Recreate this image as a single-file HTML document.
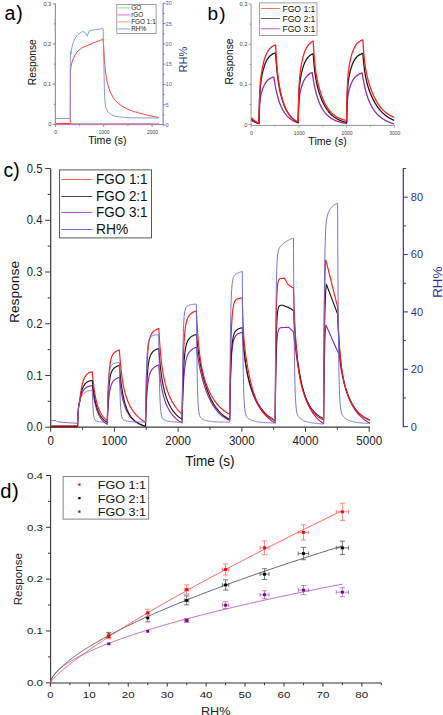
<!DOCTYPE html>
<html><head><meta charset="utf-8"><style>
html,body{margin:0;padding:0;background:#fff;}
svg{display:block;}
text{font-family:"Liberation Sans", sans-serif;}
</style></head><body>
<svg width="443" height="715" viewBox="0 0 443 715">
<rect width="443" height="715" fill="#fff"/>
<text x="4.6" y="19.7" font-size="19.5" text-anchor="start" fill="#000" letter-spacing="0.8">a)</text>
<line x1="55.3" y1="3.5" x2="55.3" y2="124.6" stroke="#707070" stroke-width="0.9" />
<line x1="52.7" y1="124.4" x2="55.3" y2="124.4" stroke="#707070" stroke-width="0.8" />
<line x1="53.8" y1="104.3" x2="55.3" y2="104.3" stroke="#707070" stroke-width="0.8" />
<line x1="52.7" y1="84.2" x2="55.3" y2="84.2" stroke="#707070" stroke-width="0.8" />
<line x1="53.8" y1="64.1" x2="55.3" y2="64.1" stroke="#707070" stroke-width="0.8" />
<line x1="52.7" y1="44" x2="55.3" y2="44" stroke="#707070" stroke-width="0.8" />
<line x1="53.8" y1="23.9" x2="55.3" y2="23.9" stroke="#707070" stroke-width="0.8" />
<line x1="52.7" y1="3.8" x2="55.3" y2="3.8" stroke="#707070" stroke-width="0.8" />
<text x="51.3" y="126.3" font-size="5.7" text-anchor="end" fill="#444" >0</text>
<text x="51.3" y="86.1" font-size="5.7" text-anchor="end" fill="#444" >0,1</text>
<text x="51.3" y="45.9" font-size="5.7" text-anchor="end" fill="#444" >0,2</text>
<text x="51.3" y="5.7" font-size="5.7" text-anchor="end" fill="#444" >0,3</text>
<line x1="55.3" y1="124.6" x2="163.1" y2="124.6" stroke="#707070" stroke-width="0.9" />
<line x1="55.3" y1="124.6" x2="55.3" y2="126.8" stroke="#707070" stroke-width="0.8" />
<line x1="79.5" y1="124.6" x2="79.5" y2="125.9" stroke="#707070" stroke-width="0.8" />
<line x1="103.7" y1="124.6" x2="103.7" y2="126.8" stroke="#707070" stroke-width="0.8" />
<line x1="127.9" y1="124.6" x2="127.9" y2="125.9" stroke="#707070" stroke-width="0.8" />
<line x1="152.1" y1="124.6" x2="152.1" y2="126.8" stroke="#707070" stroke-width="0.8" />
<text x="55.7" y="134.1" font-size="5.8" text-anchor="middle" fill="#444" textLength="2.9" lengthAdjust="spacingAndGlyphs" >0</text>
<text x="104.1" y="134.1" font-size="5.8" text-anchor="middle" fill="#444" textLength="11" lengthAdjust="spacingAndGlyphs" >1000</text>
<text x="152.5" y="134.1" font-size="5.8" text-anchor="middle" fill="#444" textLength="11" lengthAdjust="spacingAndGlyphs" >2000</text>
<text x="107.4" y="143.6" font-size="10.6" text-anchor="middle" fill="#111" >Time (s)</text>
<text x="36.1" y="62.2" font-size="10.2" text-anchor="middle" fill="#111" transform="rotate(-90 36.1 62.2)" >Response</text>
<line x1="163.1" y1="3.3" x2="163.1" y2="125.1" stroke="#5060c0" stroke-width="0.9" />
<line x1="163.1" y1="125.1" x2="165.5" y2="125.1" stroke="#5060c0" stroke-width="0.8" />
<line x1="163.1" y1="114.95" x2="164.5" y2="114.95" stroke="#5060c0" stroke-width="0.8" />
<line x1="163.1" y1="104.8" x2="165.5" y2="104.8" stroke="#5060c0" stroke-width="0.8" />
<line x1="163.1" y1="94.65" x2="164.5" y2="94.65" stroke="#5060c0" stroke-width="0.8" />
<line x1="163.1" y1="84.5" x2="165.5" y2="84.5" stroke="#5060c0" stroke-width="0.8" />
<line x1="163.1" y1="74.35" x2="164.5" y2="74.35" stroke="#5060c0" stroke-width="0.8" />
<line x1="163.1" y1="64.2" x2="165.5" y2="64.2" stroke="#5060c0" stroke-width="0.8" />
<line x1="163.1" y1="54.05" x2="164.5" y2="54.05" stroke="#5060c0" stroke-width="0.8" />
<line x1="163.1" y1="43.9" x2="165.5" y2="43.9" stroke="#5060c0" stroke-width="0.8" />
<line x1="163.1" y1="33.75" x2="164.5" y2="33.75" stroke="#5060c0" stroke-width="0.8" />
<line x1="163.1" y1="23.6" x2="165.5" y2="23.6" stroke="#5060c0" stroke-width="0.8" />
<line x1="163.1" y1="13.45" x2="164.5" y2="13.45" stroke="#5060c0" stroke-width="0.8" />
<line x1="163.1" y1="3.3" x2="165.5" y2="3.3" stroke="#5060c0" stroke-width="0.8" />
<text x="165.6" y="127" font-size="5.6" text-anchor="start" fill="#5060c0" >0</text>
<text x="165.6" y="106.7" font-size="5.6" text-anchor="start" fill="#5060c0" >5</text>
<text x="165.6" y="86.4" font-size="5.6" text-anchor="start" fill="#5060c0" >10</text>
<text x="165.6" y="66.1" font-size="5.6" text-anchor="start" fill="#5060c0" >15</text>
<text x="165.6" y="45.8" font-size="5.6" text-anchor="start" fill="#5060c0" >20</text>
<text x="165.6" y="25.5" font-size="5.6" text-anchor="start" fill="#5060c0" >25</text>
<text x="165.6" y="5.2" font-size="5.6" text-anchor="start" fill="#5060c0" >30</text>
<text x="187.1" y="59.6" font-size="11" text-anchor="middle" fill="#2c3590" transform="rotate(-90 187.1 59.6)" >RH%</text>
<rect x="116.8" y="4.4" width="39.3" height="29.1" fill="none" stroke="#8a8a8a" stroke-width="0.8"/>
<line x1="117.6" y1="7.9" x2="130.5" y2="7.9" stroke="#90d090" stroke-width="0.9" />
<text x="131.2" y="10.2" font-size="6.4" text-anchor="start" fill="#222" >GO</text>
<line x1="117.6" y1="14.9" x2="130.5" y2="14.9" stroke="#e060d0" stroke-width="0.9" />
<text x="131.2" y="17.2" font-size="6.4" text-anchor="start" fill="#222" >rGO</text>
<line x1="117.6" y1="21.9" x2="130.5" y2="21.9" stroke="#ff9080" stroke-width="0.9" />
<text x="131.2" y="24.2" font-size="6.4" text-anchor="start" fill="#222" >FGO 1:1</text>
<line x1="117.6" y1="28.9" x2="130.5" y2="28.9" stroke="#8090e0" stroke-width="0.9" />
<text x="131.2" y="31.2" font-size="6.4" text-anchor="start" fill="#222" >RH%</text>
<path d="M55.5 123.9 L158.8 123.9" fill="none" stroke="#e070c0" stroke-width="1.8" stroke-linejoin="round" />
<path d="M55.5 123.5 L158.8 123.3" fill="none" stroke="#a0d0a0" stroke-width="0.6" stroke-linejoin="round" />
<path d="M55.5 123.5 L70.3 123.5 L70.4 72 L71 66 L72.7 60 L75 55 L78 50.8 L82 47.8 L85.8 46.2 L90 44.5 L93.5 42.8 L97 41.6 L101.9 39.7 L102.8 38.8 L103.4 42 L104.4 60 L105.5 72 L107.3 83 L110 91.5 L113.9 98.9 L118 103.2 L122 106.2 L129.3 109.9 L136 112.2 L144 114.3 L151 116 L158.7 117.5" fill="none" stroke="#ff3030" stroke-width="0.9" stroke-linejoin="round" />
<path d="M55.5 118.5 L70.2 118.5 L70.4 51.5 L70.9 54.6 L71.4 50 L72.5 45 L74.2 40 L76 37 L78 34.6 L80 33 L82.7 31.5 L85 32.5 L87.3 36.2 L88.3 33 L89.6 30.8 L92 30.2 L95 29.6 L98 29.5 L101.9 28.5 L103.2 29 L103.8 60 L104.5 95 L105.2 104 L106 108.4 L108 112 L111.7 115 L116 116.5 L122 117.2 L130 117.8 L158.7 118" fill="none" stroke="#8090e0" stroke-width="0.9" stroke-linejoin="round" />
<text x="207.4" y="19.7" font-size="19" text-anchor="start" fill="#000" letter-spacing="1.2">b)</text>
<line x1="251.1" y1="3.8" x2="251.1" y2="125.4" stroke="#8a8a8a" stroke-width="0.9" />
<line x1="248.5" y1="124.6" x2="251.1" y2="124.6" stroke="#8a8a8a" stroke-width="0.8" />
<line x1="249.6" y1="104.5" x2="251.1" y2="104.5" stroke="#8a8a8a" stroke-width="0.8" />
<line x1="248.5" y1="84.4" x2="251.1" y2="84.4" stroke="#8a8a8a" stroke-width="0.8" />
<line x1="249.6" y1="64.3" x2="251.1" y2="64.3" stroke="#8a8a8a" stroke-width="0.8" />
<line x1="248.5" y1="44.2" x2="251.1" y2="44.2" stroke="#8a8a8a" stroke-width="0.8" />
<line x1="249.6" y1="24.1" x2="251.1" y2="24.1" stroke="#8a8a8a" stroke-width="0.8" />
<line x1="248.5" y1="4" x2="251.1" y2="4" stroke="#8a8a8a" stroke-width="0.8" />
<text x="247.5" y="126.5" font-size="5.7" text-anchor="end" fill="#444" >0</text>
<text x="247.5" y="86.3" font-size="5.7" text-anchor="end" fill="#444" >0,1</text>
<text x="247.5" y="46.1" font-size="5.7" text-anchor="end" fill="#444" >0,2</text>
<text x="247.5" y="5.9" font-size="5.7" text-anchor="end" fill="#444" >0,3</text>
<line x1="251.1" y1="125.4" x2="394.4" y2="125.4" stroke="#8a8a8a" stroke-width="0.9" />
<line x1="251.1" y1="125.4" x2="251.1" y2="127.6" stroke="#8a8a8a" stroke-width="0.8" />
<line x1="274.99" y1="125.4" x2="274.99" y2="126.7" stroke="#8a8a8a" stroke-width="0.8" />
<line x1="298.87" y1="125.4" x2="298.87" y2="127.6" stroke="#8a8a8a" stroke-width="0.8" />
<line x1="322.75" y1="125.4" x2="322.75" y2="126.7" stroke="#8a8a8a" stroke-width="0.8" />
<line x1="346.64" y1="125.4" x2="346.64" y2="127.6" stroke="#8a8a8a" stroke-width="0.8" />
<line x1="370.52" y1="125.4" x2="370.52" y2="126.7" stroke="#8a8a8a" stroke-width="0.8" />
<line x1="394.41" y1="125.4" x2="394.41" y2="127.6" stroke="#8a8a8a" stroke-width="0.8" />
<text x="251.5" y="134.6" font-size="5.8" text-anchor="middle" fill="#444" textLength="2.9" lengthAdjust="spacingAndGlyphs" >0</text>
<text x="299.27" y="134.6" font-size="5.8" text-anchor="middle" fill="#444" textLength="11" lengthAdjust="spacingAndGlyphs" >1000</text>
<text x="347.04" y="134.6" font-size="5.8" text-anchor="middle" fill="#444" textLength="11" lengthAdjust="spacingAndGlyphs" >2000</text>
<text x="394.81" y="134.6" font-size="5.8" text-anchor="middle" fill="#444" textLength="11" lengthAdjust="spacingAndGlyphs" >3000</text>
<text x="327.6" y="145" font-size="10.6" text-anchor="middle" fill="#111" >Time (s)</text>
<text x="232.6" y="61.5" font-size="10.2" text-anchor="middle" fill="#111" transform="rotate(-90 232.6 61.5)" >Response</text>
<rect x="259.5" y="2.9" width="57.5" height="32.5" fill="none" stroke="#8a8a8a" stroke-width="0.8"/>
<line x1="260.8" y1="8.5" x2="279.8" y2="8.5" stroke="#ff6050" stroke-width="0.9" />
<text x="282.4" y="11.5" font-size="8.6" text-anchor="start" fill="#111" >FGO 1:1</text>
<line x1="260.8" y1="18.5" x2="279.8" y2="18.5" stroke="#505050" stroke-width="0.9" />
<text x="282.4" y="21.5" font-size="8.6" text-anchor="start" fill="#111" >FGO 2:1</text>
<line x1="260.8" y1="28.8" x2="279.8" y2="28.8" stroke="#b050c0" stroke-width="0.9" />
<text x="282.4" y="31.8" font-size="8.6" text-anchor="start" fill="#111" >FGO 3:1</text>
<path d="M251.5 120.5 L253 121.5 L255 122.2 L257 123 L259 123.5 L259 123.4 L259.05 121.28 L259.18 116.45 L259.32 112.6 L259.45 109.48 L259.58 106.95 L259.72 104.86 L259.85 103.11 L259.98 101.64 L260.12 100.37 L260.25 99.27 L260.38 98.29 L260.52 97.42 L260.65 96.63 L260.78 95.91 L260.92 95.24 L261.05 94.62 L261.45 92.95 L261.85 91.49 L262.25 90.19 L262.65 89.01 L263.05 87.93 L263.45 86.94 L263.85 86.03 L264.25 85.2 L264.65 84.43 L265.05 83.72 L265.45 83.07 L265.85 82.47 L266.25 81.92 L266.65 81.41 L267.05 80.95 L267.45 80.52 L267.85 80.13 L268.25 79.76 L268.65 79.43 L269.05 79.12 L269.45 78.84 L269.85 78.58 L270.25 78.34 L270.65 78.12 L271.05 77.92 L271.45 77.73 L271.85 77.56 L272.25 77.4 L272.65 77.26 L273.05 77.12 L273.45 77 L273.8 76.9 L273.85 77.25 L273.98 78.17 L274.12 79.06 L274.25 79.93 L274.38 80.78 L274.52 81.61 L274.65 82.43 L274.78 83.22 L274.92 83.99 L275.05 84.75 L275.18 85.49 L275.32 86.21 L275.45 86.92 L275.58 87.61 L275.72 88.28 L275.85 88.94 L276.25 90.83 L276.65 92.6 L277.05 94.26 L277.45 95.82 L277.85 97.28 L278.25 98.66 L278.65 99.96 L279.05 101.18 L279.45 102.34 L279.85 103.43 L280.25 104.46 L280.65 105.43 L281.05 106.36 L281.45 107.23 L281.85 108.07 L282.25 108.86 L282.65 109.61 L283.05 110.32 L283.45 111 L283.85 111.65 L284.25 112.26 L284.65 112.85 L285.05 113.41 L285.45 113.95 L285.85 114.46 L286.25 114.95 L286.65 115.41 L287.05 115.86 L287.45 116.29 L287.85 116.7 L288.25 117.09 L288.65 117.46 L289.05 117.82 L289.45 118.16 L289.85 118.49 L290.25 118.81 L290.65 119.11 L291.05 119.4 L291.45 119.68 L291.85 119.94 L292.25 120.2 L292.65 120.44 L293.05 120.68 L293.45 120.91 L293.85 121.12 L294.25 121.33 L294.65 121.53 L295.05 121.72 L295.45 121.91 L295.85 122.09 L296.25 122.26 L296.65 122.42 L297.05 122.58 L297.45 122.73 L297.85 122.88 L298.2 123 L298.2 123 L298.25 120.69 L298.38 115.43 L298.52 111.23 L298.65 107.85 L298.78 105.1 L298.92 102.84 L299.05 100.95 L299.18 99.35 L299.32 97.99 L299.45 96.8 L299.58 95.75 L299.72 94.82 L299.85 93.97 L299.98 93.19 L300.12 92.48 L300.25 91.81 L300.65 90.01 L301.05 88.44 L301.45 87.04 L301.85 85.76 L302.25 84.58 L302.65 83.5 L303.05 82.51 L303.45 81.59 L303.85 80.75 L304.25 79.97 L304.65 79.24 L305.05 78.58 L305.45 77.96 L305.85 77.4 L306.25 76.87 L306.65 76.39 L307.05 75.94 L307.45 75.53 L307.85 75.15 L308.25 74.8 L308.65 74.48 L309.05 74.18 L309.45 73.9 L309.85 73.65 L310.25 73.41 L310.65 73.19 L311.05 72.99 L311.45 72.81 L311.85 72.64 L312.2 72.5 L312.25 72.86 L312.38 73.81 L312.52 74.73 L312.65 75.63 L312.78 76.5 L312.92 77.36 L313.05 78.2 L313.18 79.02 L313.32 79.82 L313.45 80.6 L313.58 81.36 L313.72 82.1 L313.85 82.83 L313.98 83.54 L314.12 84.24 L314.25 84.92 L314.65 86.87 L315.05 88.7 L315.45 90.42 L315.85 92.03 L316.25 93.54 L316.65 94.97 L317.05 96.32 L317.45 97.59 L317.85 98.79 L318.25 99.93 L318.65 101 L319.05 102.02 L319.45 102.99 L319.85 103.91 L320.25 104.79 L320.65 105.62 L321.05 106.41 L321.45 107.17 L321.85 107.89 L322.25 108.58 L322.65 109.24 L323.05 109.86 L323.45 110.46 L323.85 111.04 L324.25 111.59 L324.65 112.11 L325.05 112.62 L325.45 113.1 L325.85 113.57 L326.25 114.01 L326.65 114.44 L327.05 114.84 L327.45 115.24 L327.85 115.61 L328.25 115.98 L328.65 116.32 L329.05 116.66 L329.45 116.98 L329.85 117.29 L330.25 117.58 L330.65 117.87 L331.05 118.14 L331.45 118.4 L331.85 118.66 L332.25 118.9 L332.65 119.13 L333.05 119.36 L333.45 119.57 L333.85 119.78 L334.25 119.98 L334.65 120.18 L335.05 120.36 L335.45 120.54 L335.85 120.71 L336.25 120.88 L336.65 121.03 L337.05 121.19 L337.45 121.33 L337.85 121.47 L338.25 121.61 L338.65 121.74 L339.05 121.87 L339.45 121.99 L339.85 122.1 L340.25 122.21 L340.65 122.32 L341.05 122.42 L341.45 122.52 L341.85 122.62 L342.25 122.71 L342.65 122.8 L343.05 122.88 L343.45 122.96 L343.85 123.04 L344.25 123.12 L344.65 123.19 L345.05 123.26 L345.45 123.32 L345.85 123.39 L346.25 123.45 L346.6 123.5 L346.6 123.5 L346.65 121.13 L346.78 115.74 L346.92 111.44 L347.05 108 L347.18 105.2 L347.32 102.91 L347.45 101.01 L347.58 99.41 L347.72 98.05 L347.85 96.87 L347.98 95.84 L348.12 94.92 L348.25 94.09 L348.38 93.33 L348.52 92.63 L348.65 91.98 L349.05 90.25 L349.45 88.75 L349.85 87.4 L350.25 86.17 L350.65 85.05 L351.05 84.02 L351.45 83.07 L351.85 82.19 L352.25 81.38 L352.65 80.64 L353.05 79.95 L353.45 79.31 L353.85 78.72 L354.25 78.18 L354.65 77.68 L355.05 77.22 L355.45 76.79 L355.85 76.4 L356.25 76.04 L356.65 75.7 L357.05 75.39 L357.45 75.1 L357.85 74.84 L358.25 74.6 L358.65 74.37 L359.05 74.16 L359.45 73.97 L359.85 73.8 L360.25 73.63 L360.65 73.48 L361.05 73.34 L361.45 73.21 L361.85 73.1 L362.2 73 L362.25 73.34 L362.38 74.23 L362.52 75.09 L362.65 75.94 L362.78 76.76 L362.92 77.57 L363.05 78.36 L363.18 79.13 L363.32 79.88 L363.45 80.61 L363.58 81.33 L363.72 82.03 L363.85 82.72 L363.98 83.39 L364.12 84.04 L364.25 84.68 L364.65 86.53 L365.05 88.26 L365.45 89.88 L365.85 91.41 L366.25 92.85 L366.65 94.21 L367.05 95.5 L367.45 96.71 L367.85 97.87 L368.25 98.96 L368.65 100.01 L369.05 101 L369.45 101.94 L369.85 102.84 L370.25 103.7 L370.65 104.52 L371.05 105.3 L371.45 106.06 L371.85 106.78 L372.25 107.47 L372.65 108.13 L373.05 108.77 L373.45 109.38 L373.85 109.96 L374.25 110.53 L374.65 111.07 L375.05 111.6 L375.45 112.1 L375.85 112.59 L376.25 113.06 L376.65 113.51 L377.05 113.95 L377.45 114.37 L377.85 114.78 L378.25 115.17 L378.65 115.55 L379.05 115.92 L379.45 116.28 L379.85 116.62 L380.25 116.95 L380.65 117.28 L381.05 117.59 L381.45 117.89 L381.85 118.18 L382.25 118.46 L382.65 118.74 L383.05 119 L383.45 119.26 L383.85 119.51 L384.25 119.75 L384.65 119.98 L385.05 120.21 L385.45 120.43 L385.85 120.64 L386.25 120.84 L386.65 121.04 L387.05 121.24 L387.45 121.43 L387.85 121.61 L388.25 121.78 L388.65 121.96 L389.05 122.12 L389.45 122.28 L389.85 122.44 L390.25 122.59 L390.65 122.74 L391.05 122.88 L391.45 123.02 L391.85 123.16 L392.25 123.29 L392.65 123.41 L393.05 123.54 L393.45 123.66 L393.85 123.77 L394.25 123.89 L394.3 123.9" fill="none" stroke="#9a2aa8" stroke-width="1.3" stroke-linejoin="round" />
<path d="M251.5 118.8 L253 120.5 L255 121.8 L257 122.8 L259 123.3 L259 123.2 L259.05 120.15 L259.18 113.17 L259.32 107.58 L259.45 103.05 L259.58 99.35 L259.72 96.29 L259.85 93.72 L259.98 91.53 L260.12 89.65 L260.25 88 L260.38 86.54 L260.52 85.22 L260.65 84.03 L260.78 82.93 L260.92 81.91 L261.05 80.95 L261.45 78.39 L261.85 76.14 L262.25 74.13 L262.65 72.3 L263.05 70.63 L263.45 69.09 L263.85 67.69 L264.25 66.39 L264.65 65.2 L265.05 64.1 L265.45 63.1 L265.85 62.17 L266.25 61.32 L266.65 60.53 L267.05 59.81 L267.45 59.15 L267.85 58.53 L268.25 57.97 L268.65 57.45 L269.05 56.98 L269.45 56.54 L269.85 56.14 L270.25 55.77 L270.65 55.43 L271.05 55.11 L271.45 54.82 L271.85 54.56 L272.25 54.31 L272.65 54.09 L273.05 53.88 L273.45 53.69 L273.85 53.52 L274.25 53.35 L274.65 53.21 L275.05 53.07 L275.45 52.94 L275.6 52.9 L275.65 53.73 L275.78 55.86 L275.92 57.88 L276.05 59.79 L276.18 61.61 L276.32 63.33 L276.45 64.97 L276.58 66.53 L276.72 68.02 L276.85 69.44 L276.98 70.8 L277.12 72.09 L277.25 73.34 L277.38 74.53 L277.52 75.67 L277.65 76.77 L278.05 79.82 L278.45 82.57 L278.85 85.05 L279.25 87.31 L279.65 89.38 L280.05 91.3 L280.45 93.08 L280.85 94.74 L281.25 96.3 L281.65 97.76 L282.05 99.13 L282.45 100.43 L282.85 101.65 L283.25 102.82 L283.65 103.92 L284.05 104.97 L284.45 105.96 L284.85 106.91 L285.25 107.81 L285.65 108.67 L286.05 109.48 L286.45 110.26 L286.85 111 L287.25 111.71 L287.65 112.39 L288.05 113.03 L288.45 113.64 L288.85 114.23 L289.25 114.79 L289.65 115.32 L290.05 115.83 L290.45 116.32 L290.85 116.78 L291.25 117.23 L291.65 117.65 L292.05 118.05 L292.45 118.44 L292.85 118.81 L293.25 119.16 L293.65 119.49 L294.05 119.81 L294.45 120.12 L294.85 120.41 L295.25 120.69 L295.65 120.96 L296.05 121.21 L296.45 121.46 L296.85 121.69 L297.25 121.91 L297.65 122.12 L298.05 122.33 L298.2 122.4 L298.2 122.4 L298.25 119.28 L298.38 112.15 L298.52 106.45 L298.65 101.86 L298.78 98.12 L298.92 95.04 L299.05 92.46 L299.18 90.28 L299.32 88.41 L299.45 86.79 L299.58 85.35 L299.72 84.07 L299.85 82.9 L299.98 81.84 L300.12 80.85 L300.25 79.93 L300.65 77.46 L301.05 75.31 L301.45 73.39 L301.85 71.65 L302.25 70.06 L302.65 68.6 L303.05 67.25 L303.45 66.02 L303.85 64.89 L304.25 63.84 L304.65 62.88 L305.05 62 L305.45 61.19 L305.85 60.44 L306.25 59.75 L306.65 59.12 L307.05 58.54 L307.45 58 L307.85 57.51 L308.25 57.06 L308.65 56.64 L309.05 56.26 L309.45 55.9 L309.85 55.58 L310.25 55.28 L310.65 55 L311.05 54.75 L311.45 54.52 L311.85 54.3 L312.25 54.11 L312.65 53.93 L313.05 53.76 L313.2 53.7 L313.25 54.44 L313.38 56.35 L313.52 58.15 L313.65 59.85 L313.78 61.46 L313.92 62.98 L314.05 64.43 L314.18 65.8 L314.32 67.1 L314.45 68.35 L314.58 69.53 L314.72 70.66 L314.85 71.75 L314.98 72.78 L315.12 73.77 L315.25 74.72 L315.65 77.36 L316.05 79.72 L316.45 81.86 L316.85 83.81 L317.25 85.6 L317.65 87.26 L318.05 88.82 L318.45 90.27 L318.85 91.64 L319.25 92.94 L319.65 94.17 L320.05 95.34 L320.45 96.46 L320.85 97.53 L321.25 98.55 L321.65 99.53 L322.05 100.48 L322.45 101.38 L322.85 102.25 L323.25 103.08 L323.65 103.89 L324.05 104.66 L324.45 105.41 L324.85 106.12 L325.25 106.81 L325.65 107.48 L326.05 108.12 L326.45 108.73 L326.85 109.33 L327.25 109.9 L327.65 110.45 L328.05 110.98 L328.45 111.49 L328.85 111.99 L329.25 112.46 L329.65 112.92 L330.05 113.36 L330.45 113.78 L330.85 114.19 L331.25 114.59 L331.65 114.97 L332.05 115.33 L332.45 115.69 L332.85 116.02 L333.25 116.35 L333.65 116.67 L334.05 116.97 L334.45 117.26 L334.85 117.54 L335.25 117.81 L335.65 118.07 L336.05 118.32 L336.45 118.57 L336.85 118.8 L337.25 119.02 L337.65 119.24 L338.05 119.45 L338.45 119.65 L338.85 119.84 L339.25 120.02 L339.65 120.2 L340.05 120.37 L340.45 120.54 L340.85 120.69 L341.25 120.85 L341.65 120.99 L342.05 121.13 L342.45 121.27 L342.85 121.4 L343.25 121.53 L343.65 121.65 L344.05 121.76 L344.45 121.87 L344.85 121.98 L345.25 122.08 L345.65 122.18 L346.05 122.28 L346.45 122.37 L346.6 122.4 L346.6 122.4 L346.65 119.16 L346.78 111.8 L346.92 105.93 L347.05 101.21 L347.18 97.38 L347.32 94.23 L347.45 91.62 L347.58 89.42 L347.72 87.54 L347.85 85.91 L347.98 84.48 L348.12 83.21 L348.25 82.06 L348.38 81.02 L348.52 80.05 L348.65 79.15 L349.05 76.75 L349.45 74.67 L349.85 72.81 L350.25 71.13 L350.65 69.59 L351.05 68.19 L351.45 66.89 L351.85 65.7 L352.25 64.61 L352.65 63.6 L353.05 62.68 L353.45 61.83 L353.85 61.04 L354.25 60.32 L354.65 59.66 L355.05 59.05 L355.45 58.49 L355.85 57.97 L356.25 57.5 L356.65 57.06 L357.05 56.66 L357.45 56.29 L357.85 55.95 L358.25 55.64 L358.65 55.35 L359.05 55.08 L359.45 54.84 L359.85 54.61 L360.25 54.41 L360.65 54.22 L361.05 54.04 L361.45 53.88 L361.85 53.73 L362.25 53.6 L362.65 53.47 L362.9 53.4 L362.95 54.1 L363.08 55.89 L363.22 57.58 L363.35 59.17 L363.48 60.67 L363.62 62.09 L363.75 63.44 L363.88 64.71 L364.02 65.92 L364.15 67.06 L364.28 68.16 L364.42 69.2 L364.55 70.19 L364.68 71.14 L364.82 72.04 L364.95 72.91 L365.35 75.31 L365.75 77.45 L366.15 79.39 L366.55 81.15 L366.95 82.77 L367.35 84.27 L367.75 85.68 L368.15 87.01 L368.55 88.26 L368.95 89.45 L369.35 90.58 L369.75 91.67 L370.15 92.71 L370.55 93.72 L370.95 94.68 L371.35 95.62 L371.75 96.52 L372.15 97.39 L372.55 98.23 L372.95 99.05 L373.35 99.84 L373.75 100.61 L374.15 101.35 L374.55 102.07 L374.95 102.77 L375.35 103.45 L375.75 104.11 L376.15 104.75 L376.55 105.37 L376.95 105.97 L377.35 106.55 L377.75 107.12 L378.15 107.67 L378.55 108.2 L378.95 108.72 L379.35 109.22 L379.75 109.71 L380.15 110.18 L380.55 110.64 L380.95 111.09 L381.35 111.52 L381.75 111.94 L382.15 112.35 L382.55 112.75 L382.95 113.13 L383.35 113.51 L383.75 113.87 L384.15 114.22 L384.55 114.56 L384.95 114.89 L385.35 115.22 L385.75 115.53 L386.15 115.83 L386.55 116.13 L386.95 116.41 L387.35 116.69 L387.75 116.96 L388.15 117.22 L388.55 117.47 L388.95 117.72 L389.35 117.96 L389.75 118.19 L390.15 118.42 L390.55 118.64 L390.95 118.85 L391.35 119.06 L391.75 119.26 L392.15 119.45 L392.55 119.64 L392.95 119.82 L393.35 120 L393.75 120.17 L394.15 120.34 L394.3 120.4" fill="none" stroke="#1a1a1a" stroke-width="1.3" stroke-linejoin="round" />
<path d="M251.5 117.7 L253 119.5 L255 121 L257 122.3 L259 123.2 L259 123.2 L259.05 119.8 L259.18 112.04 L259.32 105.82 L259.45 100.79 L259.58 96.67 L259.72 93.26 L259.85 90.4 L259.98 87.97 L260.12 85.88 L260.25 84.04 L260.38 82.42 L260.52 80.96 L260.65 79.63 L260.78 78.4 L260.92 77.27 L261.05 76.21 L261.45 73.35 L261.85 70.85 L262.25 68.61 L262.65 66.58 L263.05 64.72 L263.45 63.01 L263.85 61.45 L264.25 60.01 L264.65 58.68 L265.05 57.46 L265.45 56.34 L265.85 55.31 L266.25 54.36 L266.65 53.49 L267.05 52.69 L267.45 51.95 L267.85 51.27 L268.25 50.64 L268.65 50.07 L269.05 49.54 L269.45 49.05 L269.85 48.6 L270.25 48.19 L270.65 47.81 L271.05 47.46 L271.45 47.14 L271.85 46.84 L272.25 46.57 L272.65 46.32 L273.05 46.09 L273.45 45.88 L273.85 45.68 L274.25 45.51 L274.65 45.34 L275.05 45.19 L275.45 45.05 L275.6 45 L275.65 46.03 L275.78 48.65 L275.92 51.11 L276.05 53.43 L276.18 55.61 L276.32 57.66 L276.45 59.61 L276.58 61.44 L276.72 63.19 L276.85 64.84 L276.98 66.41 L277.12 67.9 L277.25 69.33 L277.38 70.69 L277.52 71.99 L277.65 73.24 L278.05 76.68 L278.45 79.74 L278.85 82.5 L279.25 85 L279.65 87.29 L280.05 89.41 L280.45 91.36 L280.85 93.18 L281.25 94.89 L281.65 96.48 L282.05 97.98 L282.45 99.4 L282.85 100.73 L283.25 101.99 L283.65 103.18 L284.05 104.31 L284.45 105.37 L284.85 106.38 L285.25 107.34 L285.65 108.25 L286.05 109.11 L286.45 109.93 L286.85 110.7 L287.25 111.44 L287.65 112.14 L288.05 112.8 L288.45 113.43 L288.85 114.02 L289.25 114.59 L289.65 115.12 L290.05 115.63 L290.45 116.12 L290.85 116.57 L291.25 117.01 L291.65 117.42 L292.05 117.81 L292.45 118.18 L292.85 118.53 L293.25 118.87 L293.65 119.18 L294.05 119.48 L294.45 119.77 L294.85 120.04 L295.25 120.29 L295.65 120.53 L296.05 120.76 L296.45 120.98 L296.85 121.18 L297.25 121.38 L297.65 121.56 L298.05 121.74 L298.2 121.8 L298.2 121.8 L298.25 118.13 L298.38 109.76 L298.52 103.07 L298.65 97.67 L298.78 93.28 L298.92 89.66 L299.05 86.63 L299.18 84.07 L299.32 81.88 L299.45 79.97 L299.58 78.28 L299.72 76.77 L299.85 75.4 L299.98 74.15 L300.12 72.99 L300.25 71.91 L300.65 69.01 L301.05 66.49 L301.45 64.23 L301.85 62.19 L302.25 60.31 L302.65 58.6 L303.05 57.02 L303.45 55.57 L303.85 54.24 L304.25 53.02 L304.65 51.89 L305.05 50.85 L305.45 49.9 L305.85 49.02 L306.25 48.21 L306.65 47.47 L307.05 46.78 L307.45 46.15 L307.85 45.58 L308.25 45.04 L308.65 44.55 L309.05 44.1 L309.45 43.69 L309.85 43.31 L310.25 42.95 L310.65 42.63 L311.05 42.33 L311.45 42.06 L311.85 41.81 L312.25 41.58 L312.65 41.37 L313.05 41.17 L313.2 41.1 L313.25 42.07 L313.38 44.52 L313.52 46.82 L313.65 48.97 L313.78 50.99 L313.92 52.89 L314.05 54.68 L314.18 56.36 L314.32 57.95 L314.45 59.46 L314.58 60.88 L314.72 62.23 L314.85 63.52 L314.98 64.74 L315.12 65.91 L315.25 67.03 L315.65 70.1 L316.05 72.84 L316.45 75.3 L316.85 77.53 L317.25 79.59 L317.65 81.5 L318.05 83.28 L318.45 84.95 L318.85 86.52 L319.25 88.02 L319.65 89.44 L320.05 90.79 L320.45 92.08 L320.85 93.31 L321.25 94.49 L321.65 95.62 L322.05 96.7 L322.45 97.74 L322.85 98.74 L323.25 99.7 L323.65 100.62 L324.05 101.5 L324.45 102.35 L324.85 103.17 L325.25 103.95 L325.65 104.7 L326.05 105.43 L326.45 106.12 L326.85 106.79 L327.25 107.43 L327.65 108.04 L328.05 108.63 L328.45 109.2 L328.85 109.75 L329.25 110.27 L329.65 110.77 L330.05 111.26 L330.45 111.72 L330.85 112.16 L331.25 112.59 L331.65 113 L332.05 113.39 L332.45 113.77 L332.85 114.13 L333.25 114.48 L333.65 114.81 L334.05 115.13 L334.45 115.44 L334.85 115.73 L335.25 116.01 L335.65 116.28 L336.05 116.54 L336.45 116.78 L336.85 117.02 L337.25 117.25 L337.65 117.46 L338.05 117.67 L338.45 117.87 L338.85 118.06 L339.25 118.24 L339.65 118.41 L340.05 118.58 L340.45 118.73 L340.85 118.88 L341.25 119.03 L341.65 119.17 L342.05 119.3 L342.45 119.42 L342.85 119.54 L343.25 119.65 L343.65 119.76 L344.05 119.86 L344.45 119.96 L344.85 120.05 L345.25 120.14 L345.65 120.22 L346.05 120.3 L346.45 120.37 L346.6 120.4 L346.6 120.4 L346.65 116.62 L346.78 108.02 L346.92 101.16 L347.05 95.65 L347.18 91.17 L347.32 87.5 L347.45 84.45 L347.58 81.88 L347.72 79.68 L347.85 77.78 L347.98 76.11 L348.12 74.62 L348.25 73.28 L348.38 72.06 L348.52 70.93 L348.65 69.88 L349.05 67.08 L349.45 64.65 L349.85 62.48 L350.25 60.51 L350.65 58.72 L351.05 57.07 L351.45 55.56 L351.85 54.17 L352.25 52.89 L352.65 51.72 L353.05 50.64 L353.45 49.64 L353.85 48.73 L354.25 47.89 L354.65 47.11 L355.05 46.4 L355.45 45.75 L355.85 45.14 L356.25 44.59 L356.65 44.08 L357.05 43.61 L357.45 43.18 L357.85 42.78 L358.25 42.41 L358.65 42.08 L359.05 41.77 L359.45 41.48 L359.85 41.22 L360.25 40.98 L360.65 40.76 L361.05 40.55 L361.45 40.36 L361.85 40.19 L362.25 40.03 L362.65 39.89 L362.9 39.8 L362.95 40.72 L363.08 43.05 L363.22 45.23 L363.35 47.26 L363.48 49.16 L363.62 50.94 L363.75 52.62 L363.88 54.19 L364.02 55.66 L364.15 57.06 L364.28 58.38 L364.42 59.62 L364.55 60.81 L364.68 61.93 L364.82 63 L364.95 64.02 L365.35 66.82 L365.75 69.29 L366.15 71.51 L366.55 73.52 L366.95 75.38 L367.35 77.1 L367.75 78.71 L368.15 80.22 L368.55 81.66 L368.95 83.03 L369.35 84.34 L369.75 85.59 L370.15 86.8 L370.55 87.96 L370.95 89.08 L371.35 90.16 L371.75 91.2 L372.15 92.2 L372.55 93.18 L372.95 94.12 L373.35 95.03 L373.75 95.91 L374.15 96.77 L374.55 97.59 L374.95 98.39 L375.35 99.17 L375.75 99.91 L376.15 100.64 L376.55 101.34 L376.95 102.02 L377.35 102.68 L377.75 103.32 L378.15 103.94 L378.55 104.53 L378.95 105.11 L379.35 105.67 L379.75 106.21 L380.15 106.74 L380.55 107.25 L380.95 107.74 L381.35 108.21 L381.75 108.67 L382.15 109.12 L382.55 109.55 L382.95 109.96 L383.35 110.37 L383.75 110.76 L384.15 111.13 L384.55 111.5 L384.95 111.85 L385.35 112.19 L385.75 112.52 L386.15 112.84 L386.55 113.14 L386.95 113.44 L387.35 113.73 L387.75 114.01 L388.15 114.27 L388.55 114.53 L388.95 114.78 L389.35 115.03 L389.75 115.26 L390.15 115.48 L390.55 115.7 L390.95 115.91 L391.35 116.11 L391.75 116.31 L392.15 116.5 L392.55 116.68 L392.95 116.85 L393.35 117.02 L393.75 117.19 L394.15 117.34 L394.3 117.4" fill="none" stroke="#ff2020" stroke-width="1.3" stroke-linejoin="round" />
<text x="3.6" y="177" font-size="19.4" text-anchor="start" fill="#000" >c)</text>
<line x1="50.7" y1="168.4" x2="50.7" y2="427.6" stroke="#3a3a3a" stroke-width="1.2" />
<line x1="45.2" y1="427.2" x2="50.7" y2="427.2" stroke="#3a3a3a" stroke-width="1" />
<line x1="47.7" y1="401.33" x2="50.7" y2="401.33" stroke="#3a3a3a" stroke-width="1" />
<line x1="45.2" y1="375.47" x2="50.7" y2="375.47" stroke="#3a3a3a" stroke-width="1" />
<line x1="47.7" y1="349.61" x2="50.7" y2="349.61" stroke="#3a3a3a" stroke-width="1" />
<line x1="45.2" y1="323.74" x2="50.7" y2="323.74" stroke="#3a3a3a" stroke-width="1" />
<line x1="47.7" y1="297.88" x2="50.7" y2="297.88" stroke="#3a3a3a" stroke-width="1" />
<line x1="45.2" y1="272.01" x2="50.7" y2="272.01" stroke="#3a3a3a" stroke-width="1" />
<line x1="47.7" y1="246.14" x2="50.7" y2="246.14" stroke="#3a3a3a" stroke-width="1" />
<line x1="45.2" y1="220.28" x2="50.7" y2="220.28" stroke="#3a3a3a" stroke-width="1" />
<line x1="47.7" y1="194.41" x2="50.7" y2="194.41" stroke="#3a3a3a" stroke-width="1" />
<line x1="45.2" y1="168.55" x2="50.7" y2="168.55" stroke="#3a3a3a" stroke-width="1" />
<text x="42.4" y="431.3" font-size="11.6" text-anchor="end" fill="#222" transform="translate(0 431.3) scale(1 1.08) translate(0 -431.3)" textLength="15.6" lengthAdjust="spacingAndGlyphs" >0.0</text>
<text x="42.4" y="379.57" font-size="11.6" text-anchor="end" fill="#222" transform="translate(0 379.57) scale(1 1.08) translate(0 -379.57)" textLength="15.6" lengthAdjust="spacingAndGlyphs" >0.1</text>
<text x="42.4" y="327.84" font-size="11.6" text-anchor="end" fill="#222" transform="translate(0 327.84) scale(1 1.08) translate(0 -327.84)" textLength="15.6" lengthAdjust="spacingAndGlyphs" >0.2</text>
<text x="42.4" y="276.11" font-size="11.6" text-anchor="end" fill="#222" transform="translate(0 276.11) scale(1 1.08) translate(0 -276.11)" textLength="15.6" lengthAdjust="spacingAndGlyphs" >0.3</text>
<text x="42.4" y="224.38" font-size="11.6" text-anchor="end" fill="#222" transform="translate(0 224.38) scale(1 1.08) translate(0 -224.38)" textLength="15.6" lengthAdjust="spacingAndGlyphs" >0.4</text>
<text x="42.4" y="172.65" font-size="11.6" text-anchor="end" fill="#222" transform="translate(0 172.65) scale(1 1.08) translate(0 -172.65)" textLength="15.6" lengthAdjust="spacingAndGlyphs" >0.5</text>
<line x1="50.1" y1="427.2" x2="370.1" y2="427.2" stroke="#3a3a3a" stroke-width="1.2" />
<line x1="50.7" y1="427.2" x2="50.7" y2="431.8" stroke="#3a3a3a" stroke-width="1" />
<line x1="82.55" y1="427.2" x2="82.55" y2="429.8" stroke="#3a3a3a" stroke-width="1" />
<line x1="114.4" y1="427.2" x2="114.4" y2="431.8" stroke="#3a3a3a" stroke-width="1" />
<line x1="146.25" y1="427.2" x2="146.25" y2="429.8" stroke="#3a3a3a" stroke-width="1" />
<line x1="178.1" y1="427.2" x2="178.1" y2="431.8" stroke="#3a3a3a" stroke-width="1" />
<line x1="209.95" y1="427.2" x2="209.95" y2="429.8" stroke="#3a3a3a" stroke-width="1" />
<line x1="241.8" y1="427.2" x2="241.8" y2="431.8" stroke="#3a3a3a" stroke-width="1" />
<line x1="273.65" y1="427.2" x2="273.65" y2="429.8" stroke="#3a3a3a" stroke-width="1" />
<line x1="305.5" y1="427.2" x2="305.5" y2="431.8" stroke="#3a3a3a" stroke-width="1" />
<line x1="337.35" y1="427.2" x2="337.35" y2="429.8" stroke="#3a3a3a" stroke-width="1" />
<line x1="369.2" y1="427.2" x2="369.2" y2="431.8" stroke="#3a3a3a" stroke-width="1" />
<text x="50.7" y="445" font-size="11.6" text-anchor="middle" fill="#222" transform="translate(0 445) scale(1 1.04) translate(0 -445)" >0</text>
<text x="114.4" y="445" font-size="11.6" text-anchor="middle" fill="#222" transform="translate(0 445) scale(1 1.04) translate(0 -445)" >1000</text>
<text x="178.1" y="445" font-size="11.6" text-anchor="middle" fill="#222" transform="translate(0 445) scale(1 1.04) translate(0 -445)" >2000</text>
<text x="241.8" y="445" font-size="11.6" text-anchor="middle" fill="#222" transform="translate(0 445) scale(1 1.04) translate(0 -445)" >3000</text>
<text x="305.5" y="445" font-size="11.6" text-anchor="middle" fill="#222" transform="translate(0 445) scale(1 1.04) translate(0 -445)" >4000</text>
<text x="369.2" y="445" font-size="11.6" text-anchor="middle" fill="#222" transform="translate(0 445) scale(1 1.04) translate(0 -445)" >5000</text>
<text x="209.9" y="466" font-size="13.6" text-anchor="middle" fill="#111" transform="translate(0 466) scale(1 1.07) translate(0 -466)" >Time (s)</text>
<text x="18.7" y="292" font-size="13.6" text-anchor="middle" fill="#111" transform="rotate(-90 18.7 292)" textLength="62.2" lengthAdjust="spacingAndGlyphs" >Response</text>
<line x1="403.3" y1="168.3" x2="403.3" y2="427.2" stroke="#2e3192" stroke-width="1.2" />
<line x1="403.3" y1="426.6" x2="407.9" y2="426.6" stroke="#2e3192" stroke-width="1" />
<line x1="403.3" y1="397.93" x2="405.9" y2="397.93" stroke="#2e3192" stroke-width="1" />
<line x1="403.3" y1="369.25" x2="407.9" y2="369.25" stroke="#2e3192" stroke-width="1" />
<line x1="403.3" y1="340.58" x2="405.9" y2="340.58" stroke="#2e3192" stroke-width="1" />
<line x1="403.3" y1="311.9" x2="407.9" y2="311.9" stroke="#2e3192" stroke-width="1" />
<line x1="403.3" y1="283.23" x2="405.9" y2="283.23" stroke="#2e3192" stroke-width="1" />
<line x1="403.3" y1="254.55" x2="407.9" y2="254.55" stroke="#2e3192" stroke-width="1" />
<line x1="403.3" y1="225.88" x2="405.9" y2="225.88" stroke="#2e3192" stroke-width="1" />
<line x1="403.3" y1="197.2" x2="407.9" y2="197.2" stroke="#2e3192" stroke-width="1" />
<line x1="403.3" y1="168.53" x2="405.9" y2="168.53" stroke="#2e3192" stroke-width="1" />
<text x="410.8" y="430.5" font-size="11" text-anchor="start" fill="#2e3192" >0</text>
<text x="410.8" y="373.15" font-size="11" text-anchor="start" fill="#2e3192" >20</text>
<text x="410.8" y="315.8" font-size="11" text-anchor="start" fill="#2e3192" >40</text>
<text x="410.8" y="258.45" font-size="11" text-anchor="start" fill="#2e3192" >60</text>
<text x="410.8" y="201.1" font-size="11" text-anchor="start" fill="#2e3192" >80</text>
<text x="441.6" y="282.2" font-size="13.4" text-anchor="middle" fill="#2e3192" transform="rotate(-90 441.6 282.2)" >RH%</text>
<rect x="59.5" y="169.9" width="92" height="68" fill="none" stroke="#5a5a5a" stroke-width="1"/>
<line x1="61.2" y1="179.5" x2="92.2" y2="179.5" stroke="#ff6060" stroke-width="1" />
<text x="96" y="183.8" font-size="13.8" text-anchor="start" fill="#111" transform="translate(0 183.8) scale(1 1.05) translate(0 -183.8)" textLength="51.6" lengthAdjust="spacingAndGlyphs" >FGO 1:1</text>
<line x1="61.2" y1="196.5" x2="92.2" y2="196.5" stroke="#505050" stroke-width="1" />
<text x="96" y="200.8" font-size="13.8" text-anchor="start" fill="#111" transform="translate(0 200.8) scale(1 1.05) translate(0 -200.8)" textLength="51.6" lengthAdjust="spacingAndGlyphs" >FGO 2:1</text>
<line x1="61.2" y1="212.5" x2="92.2" y2="212.5" stroke="#a858c0" stroke-width="1" />
<text x="96" y="216.8" font-size="13.8" text-anchor="start" fill="#111" transform="translate(0 216.8) scale(1 1.05) translate(0 -216.8)" textLength="51.6" lengthAdjust="spacingAndGlyphs" >FGO 3:1</text>
<line x1="61.2" y1="229.5" x2="92.2" y2="229.5" stroke="#6878d0" stroke-width="1" />
<text x="96" y="233.8" font-size="13.8" text-anchor="start" fill="#111" transform="translate(0 233.8) scale(1 1.05) translate(0 -233.8)" >RH%</text>
<path d="M51.5 426.3 L77.6 426.3 L77.6 426.3 L77.65 424.61 L77.78 420.62 L77.92 417.29 L78.05 414.49 L78.18 412.15 L78.32 410.19 L78.45 408.55 L78.58 407.18 L78.72 406.03 L78.85 405.07 L78.98 404.27 L79.12 403.59 L79.25 403.03 L79.38 402.55 L79.52 402.16 L79.65 401.83 L80.05 399.74 L80.45 397.9 L80.85 396.37 L81.25 395.09 L81.65 393.98 L82.05 393.02 L82.45 392.17 L82.85 391.42 L83.25 390.75 L83.65 390.16 L84.05 389.63 L84.45 389.15 L84.85 388.73 L85.25 388.35 L85.65 388.02 L86.05 387.72 L86.45 387.45 L86.85 387.2 L87.25 386.99 L87.65 386.79 L88.05 386.62 L88.45 386.47 L88.85 386.33 L89.25 386.2 L89.65 386.09 L90.05 385.99 L90.45 385.9 L90.85 385.82 L91.25 385.75 L91.65 385.69 L92.05 385.63 L92.3 385.6 L92.35 386.05 L92.48 387.22 L92.62 388.35 L92.75 389.44 L92.88 390.49 L93.02 391.5 L93.15 392.48 L93.28 393.42 L93.42 394.33 L93.55 395.21 L93.68 396.06 L93.82 396.88 L93.95 397.67 L94.08 398.44 L94.22 399.18 L94.35 399.9 L94.75 401.91 L95.15 403.75 L95.55 405.42 L95.95 406.94 L96.35 408.34 L96.75 409.62 L97.15 410.8 L97.55 411.89 L97.95 412.89 L98.35 413.83 L98.75 414.69 L99.15 415.49 L99.55 416.24 L99.95 416.93 L100.35 417.58 L100.75 418.19 L101.15 418.76 L101.55 419.29 L101.95 419.79 L102.35 420.26 L102.75 420.71 L103.15 421.12 L103.55 421.52 L103.95 421.89 L104.35 422.24 L104.75 422.57 L105.15 422.88 L105.55 423.18 L105.95 423.46 L106.35 423.72 L106.75 423.97 L107.15 424.21 L107.3 424.3 L107.3 424.3 L107.35 422.98 L107.48 419.65 L107.62 416.61 L107.75 413.82 L107.88 411.26 L108.02 408.91 L108.15 406.76 L108.28 404.78 L108.42 402.96 L108.55 401.29 L108.68 399.74 L108.82 398.32 L108.95 397.02 L109.08 395.81 L109.22 394.69 L109.35 393.66 L109.75 391.01 L110.15 388.89 L110.55 387.18 L110.95 385.78 L111.35 384.63 L111.75 383.68 L112.15 382.87 L112.55 382.18 L112.95 381.59 L113.35 381.08 L113.75 380.63 L114.15 380.23 L114.55 379.87 L114.95 379.55 L115.35 379.26 L115.75 378.99 L116.15 378.75 L116.55 378.53 L116.95 378.33 L117.35 378.15 L117.75 377.98 L118.15 377.82 L118.55 377.67 L118.95 377.54 L119.35 377.41 L119.4 377.4 L119.45 377.89 L119.58 379.15 L119.72 380.36 L119.85 381.53 L119.98 382.66 L120.12 383.75 L120.25 384.79 L120.38 385.81 L120.52 386.78 L120.65 387.73 L120.78 388.64 L120.92 389.52 L121.05 390.37 L121.18 391.2 L121.32 392 L121.45 392.77 L121.85 394.94 L122.25 396.92 L122.65 398.73 L123.05 400.39 L123.45 401.92 L123.85 403.32 L124.25 404.63 L124.65 405.84 L125.05 406.96 L125.45 408.01 L125.85 408.99 L126.25 409.91 L126.65 410.77 L127.05 411.59 L127.45 412.35 L127.85 413.07 L128.25 413.76 L128.65 414.4 L129.05 415.02 L129.45 415.6 L129.85 416.15 L130.25 416.67 L130.65 417.18 L131.05 417.65 L131.45 418.11 L131.85 418.54 L132.25 418.95 L132.65 419.35 L133.05 419.73 L133.45 420.09 L133.85 420.43 L134.25 420.77 L134.65 421.08 L135.05 421.39 L135.45 421.68 L135.85 421.96 L136.25 422.22 L136.65 422.48 L137.05 422.73 L137.45 422.96 L137.85 423.19 L138.25 423.41 L138.65 423.62 L139.05 423.82 L139.45 424.01 L139.85 424.2 L140.25 424.38 L140.65 424.55 L141.05 424.72 L141.45 424.88 L141.85 425.03 L142.25 425.18 L142.65 425.32 L143.05 425.46 L143.45 425.59 L143.85 425.72 L144.25 425.84 L144.65 425.96 L145.05 426.08 L145.45 426.19 L145.5 426.2 L145.5 426.2 L145.55 424.48 L145.68 420.18 L145.82 416.23 L145.95 412.62 L146.08 409.3 L146.22 406.26 L146.35 403.47 L146.48 400.9 L146.62 398.54 L146.75 396.37 L146.88 394.37 L147.02 392.53 L147.15 390.84 L147.28 389.27 L147.42 387.83 L147.55 386.49 L147.95 383.05 L148.35 380.3 L148.75 378.08 L149.15 376.28 L149.55 374.79 L149.95 373.55 L150.35 372.5 L150.75 371.61 L151.15 370.85 L151.55 370.18 L151.95 369.59 L152.35 369.08 L152.75 368.61 L153.15 368.2 L153.55 367.82 L153.95 367.48 L154.35 367.17 L154.75 366.89 L155.15 366.62 L155.55 366.38 L155.95 366.16 L156.35 365.96 L156.75 365.77 L157.15 365.6 L157.55 365.43 L157.95 365.28 L158.35 365.14 L158.75 365.02 L158.8 365 L158.85 365.56 L158.98 367.03 L159.12 368.44 L159.25 369.8 L159.38 371.1 L159.52 372.36 L159.65 373.58 L159.78 374.75 L159.92 375.88 L160.05 376.97 L160.18 378.02 L160.32 379.04 L160.45 380.02 L160.58 380.97 L160.72 381.89 L160.85 382.78 L161.25 385.29 L161.65 387.57 L162.05 389.65 L162.45 391.57 L162.85 393.33 L163.25 394.96 L163.65 396.48 L164.05 397.88 L164.45 399.2 L164.85 400.43 L165.25 401.59 L165.65 402.68 L166.05 403.71 L166.45 404.68 L166.85 405.6 L167.25 406.48 L167.65 407.31 L168.05 408.1 L168.45 408.86 L168.85 409.58 L169.25 410.28 L169.65 410.94 L170.05 411.58 L170.45 412.19 L170.85 412.77 L171.25 413.34 L171.65 413.88 L172.05 414.4 L172.45 414.9 L172.85 415.38 L173.25 415.85 L173.65 416.3 L174.05 416.73 L174.45 417.15 L174.85 417.55 L175.25 417.94 L175.65 418.31 L176.05 418.68 L176.45 419.03 L176.85 419.37 L177.25 419.69 L177.65 420.01 L178.05 420.31 L178.45 420.61 L178.85 420.9 L179.25 421.17 L179.65 421.44 L180.05 421.7 L180.45 421.95 L180.85 422.19 L181.25 422.43 L181.65 422.65 L182.05 422.87 L182.1 422.9 L182.1 422.9 L182.15 420.79 L182.28 415.5 L182.42 410.64 L182.55 406.2 L182.68 402.12 L182.82 398.38 L182.95 394.95 L183.08 391.79 L183.22 388.89 L183.35 386.22 L183.48 383.76 L183.62 381.5 L183.75 379.42 L183.88 377.49 L184.02 375.71 L184.15 374.07 L184.55 369.84 L184.95 366.46 L185.35 363.73 L185.75 361.51 L186.15 359.68 L186.55 358.16 L186.95 356.87 L187.35 355.78 L187.75 354.84 L188.15 354.02 L188.55 353.3 L188.95 352.66 L189.35 352.09 L189.75 351.58 L190.15 351.12 L190.55 350.7 L190.95 350.31 L191.35 349.96 L191.75 349.64 L192.15 349.35 L192.55 349.08 L192.95 348.82 L193.35 348.59 L193.75 348.38 L194.15 348.18 L194.55 347.99 L194.95 347.82 L195.35 347.66 L195.75 347.52 L196.15 347.38 L196.4 347.3 L196.45 347.69 L196.58 348.7 L196.72 349.69 L196.85 350.65 L196.98 351.6 L197.12 352.52 L197.25 353.43 L197.38 354.31 L197.52 355.18 L197.65 356.03 L197.78 356.86 L197.92 357.68 L198.05 358.48 L198.18 359.27 L198.32 360.04 L198.45 360.8 L198.85 363 L199.25 365.09 L199.65 367.09 L200.05 369.01 L200.45 370.84 L200.85 372.6 L201.25 374.3 L201.65 375.93 L202.05 377.5 L202.45 379.01 L202.85 380.47 L203.25 381.89 L203.65 383.25 L204.05 384.57 L204.45 385.85 L204.85 387.09 L205.25 388.29 L205.65 389.45 L206.05 390.57 L206.45 391.66 L206.85 392.71 L207.25 393.73 L207.65 394.72 L208.05 395.68 L208.45 396.61 L208.85 397.51 L209.25 398.38 L209.65 399.23 L210.05 400.05 L210.45 400.84 L210.85 401.61 L211.25 402.36 L211.65 403.08 L212.05 403.79 L212.45 404.47 L212.85 405.13 L213.25 405.77 L213.65 406.39 L214.05 406.99 L214.45 407.57 L214.85 408.14 L215.25 408.69 L215.65 409.22 L216.05 409.73 L216.45 410.23 L216.85 410.71 L217.25 411.18 L217.65 411.64 L218.05 412.08 L218.45 412.51 L218.85 412.92 L219.25 413.32 L219.65 413.71 L220.05 414.09 L220.45 414.46 L220.85 414.81 L221.25 415.16 L221.65 415.49 L222.05 415.81 L222.45 416.13 L222.85 416.43 L223.25 416.73 L223.65 417.01 L224.05 417.29 L224.45 417.56 L224.85 417.82 L225.25 418.07 L225.65 418.31 L226.05 418.55 L226.45 418.78 L226.85 419 L227.25 419.22 L227.65 419.43 L228.05 419.63 L228.45 419.82 L228.85 420.02 L229.25 420.2 L229.65 420.38 L229.7 420.4 L229.7 420.4 L229.75 417.02 L229.88 408.7 L230.02 401.29 L230.15 394.67 L230.28 388.77 L230.42 383.49 L230.55 378.78 L230.68 374.57 L230.82 370.8 L230.95 367.42 L231.08 364.39 L231.22 361.67 L231.35 359.23 L231.48 357.04 L231.62 355.07 L231.75 353.29 L232.15 348.92 L232.55 345.67 L232.95 343.22 L233.35 341.34 L233.75 339.88 L234.15 338.72 L234.55 337.78 L234.95 337.02 L235.35 336.38 L235.75 335.84 L236.15 335.38 L236.55 334.98 L236.95 334.63 L237.35 334.33 L237.75 334.06 L238.15 333.82 L238.55 333.6 L238.95 333.41 L239.35 333.24 L239.75 333.09 L240.15 332.95 L240.55 332.82 L240.95 332.71 L241.35 332.6 L241.75 332.51 L242.15 332.43 L242.3 332.4 L242.35 333.1 L242.48 334.94 L242.62 336.71 L242.75 338.42 L242.88 340.07 L243.02 341.66 L243.15 343.2 L243.28 344.69 L243.42 346.13 L243.55 347.53 L243.68 348.88 L243.82 350.19 L243.95 351.46 L244.08 352.69 L244.22 353.89 L244.35 355.05 L244.75 358.33 L245.15 361.34 L245.55 364.12 L245.95 366.7 L246.35 369.1 L246.75 371.33 L247.15 373.42 L247.55 375.39 L247.95 377.24 L248.35 378.99 L248.75 380.64 L249.15 382.22 L249.55 383.72 L249.95 385.15 L250.35 386.51 L250.75 387.82 L251.15 389.08 L251.55 390.29 L251.95 391.45 L252.35 392.57 L252.75 393.65 L253.15 394.69 L253.55 395.7 L253.95 396.67 L254.35 397.61 L254.75 398.52 L255.15 399.41 L255.55 400.27 L255.95 401.1 L256.35 401.9 L256.75 402.69 L257.15 403.45 L257.55 404.19 L257.95 404.9 L258.35 405.6 L258.75 406.28 L259.15 406.94 L259.55 407.58 L259.95 408.2 L260.35 408.81 L260.75 409.4 L261.15 409.97 L261.55 410.53 L261.95 411.08 L262.35 411.61 L262.75 412.12 L263.15 412.62 L263.55 413.11 L263.95 413.59 L264.35 414.05 L264.75 414.5 L265.15 414.94 L265.55 415.37 L265.95 415.79 L266.35 416.19 L266.75 416.59 L267.15 416.98 L267.55 417.35 L267.95 417.72 L268.35 418.08 L268.75 418.43 L269.15 418.77 L269.55 419.1 L269.95 419.42 L270.35 419.74 L270.75 420.04 L271.15 420.34 L271.55 420.64 L271.95 420.92 L272.35 421.2 L272.75 421.47 L273.15 421.74 L273.55 422 L273.95 422.25 L274.35 422.5 L274.75 422.74 L275.15 422.97 L275.2 423 L275.2 423 L275.25 417.84 L275.38 405.4 L275.52 394.68 L275.65 385.43 L275.78 377.45 L275.92 370.58 L276.05 364.65 L276.18 359.53 L276.32 355.12 L276.45 351.32 L276.58 348.04 L276.72 345.22 L276.85 342.78 L276.98 340.68 L277.12 338.86 L277.25 337.3 L277.65 333.79 L278.05 331.54 L278.45 330.09 L278.85 329.17 L279.25 328.57 L279.65 328.19 L280.05 327.95 L280.45 327.79 L280.85 327.69 L281.25 327.63 L281.65 327.59 L282.05 327.58 L282.45 327.56 L282.85 327.54 L283.25 327.53 L283.65 327.51 L284.05 327.49 L284.45 327.48 L284.85 327.46 L285.25 327.44 L285.65 327.43 L286.05 327.41 L286.45 327.39 L286.85 327.38 L287.25 327.36 L287.65 327.34 L288.05 327.33 L288.45 327.31 L288.85 327.44 L289.25 327.82 L289.65 328.19 L290.05 328.57 L290.45 328.94 L290.85 329.32 L291.25 329.69 L291.65 330.07 L292.05 330.44 L292.45 330.82 L292.85 331.19 L293.25 331.57 L293.5 331.8 L293.55 332.28 L293.68 333.56 L293.82 334.81 L293.95 336.05 L294.08 337.27 L294.22 338.48 L294.35 339.66 L294.48 340.83 L294.62 341.98 L294.75 343.12 L294.88 344.24 L295.02 345.34 L295.15 346.43 L295.28 347.5 L295.42 348.56 L295.55 349.6 L295.95 352.64 L296.35 355.55 L296.75 358.35 L297.15 361.02 L297.55 363.59 L297.95 366.06 L298.35 368.42 L298.75 370.69 L299.15 372.86 L299.55 374.95 L299.95 376.96 L300.35 378.89 L300.75 380.74 L301.15 382.52 L301.55 384.23 L301.95 385.87 L302.35 387.45 L302.75 388.97 L303.15 390.43 L303.55 391.83 L303.95 393.18 L304.35 394.48 L304.75 395.73 L305.15 396.93 L305.55 398.09 L305.95 399.21 L306.35 400.28 L306.75 401.32 L307.15 402.31 L307.55 403.27 L307.95 404.2 L308.35 405.09 L308.75 405.95 L309.15 406.78 L309.55 407.58 L309.95 408.35 L310.35 409.09 L310.75 409.81 L311.15 410.5 L311.55 411.16 L311.95 411.81 L312.35 412.43 L312.75 413.03 L313.15 413.61 L313.55 414.17 L313.95 414.71 L314.35 415.23 L314.75 415.73 L315.15 416.22 L315.55 416.69 L315.95 417.15 L316.35 417.59 L316.75 418.01 L317.15 418.42 L317.55 418.82 L317.95 419.21 L318.35 419.58 L318.75 419.94 L319.15 420.29 L319.55 420.62 L319.95 420.95 L320.35 421.27 L320.75 421.57 L321.15 421.87 L321.55 422.16 L321.95 422.44 L322.35 422.71 L322.75 422.97 L323.15 423.22 L323.55 423.47 L323.6 423.5 L323.6 423.5 L323.65 417.72 L323.78 403.78 L323.92 391.76 L324.05 381.4 L324.18 372.46 L324.32 364.75 L324.45 358.11 L324.58 352.38 L324.72 347.43 L324.85 343.17 L324.98 339.5 L325.12 336.33 L325.25 333.6 L325.38 331.24 L325.52 329.21 L325.65 327.46 L326.05 325.14 L326.45 326.05 L326.85 326.96 L327.25 327.87 L327.65 328.78 L328.05 329.69 L328.45 330.6 L328.85 331.51 L329.25 332.42 L329.65 333.33 L330.05 334.24 L330.45 335.15 L330.85 336.06 L331.25 336.97 L331.65 337.88 L332.05 338.79 L332.45 339.7 L332.85 340.61 L333.25 341.52 L333.65 342.43 L334.05 343.34 L334.45 344.25 L334.85 345.16 L335.25 346.07 L335.65 346.98 L336.05 347.89 L336.45 348.8 L336.85 349.71 L337.25 350.62 L337.65 351.53 L338.05 352.44 L338.45 353.35 L338.85 354.26 L339 354.6 L339.05 355 L339.18 356.06 L339.32 357.1 L339.45 358.11 L339.58 359.1 L339.72 360.07 L339.85 361.01 L339.98 361.94 L340.12 362.84 L340.25 363.73 L340.38 364.6 L340.52 365.45 L340.65 366.28 L340.78 367.1 L340.92 367.9 L341.05 368.69 L341.45 370.95 L341.85 373.09 L342.25 375.12 L342.65 377.04 L343.05 378.87 L343.45 380.61 L343.85 382.27 L344.25 383.85 L344.65 385.36 L345.05 386.81 L345.45 388.19 L345.85 389.52 L346.25 390.8 L346.65 392.03 L347.05 393.21 L347.45 394.34 L347.85 395.43 L348.25 396.49 L348.65 397.5 L349.05 398.48 L349.45 399.43 L349.85 400.34 L350.25 401.23 L350.65 402.08 L351.05 402.91 L351.45 403.71 L351.85 404.48 L352.25 405.23 L352.65 405.95 L353.05 406.65 L353.45 407.33 L353.85 407.99 L354.25 408.62 L354.65 409.24 L355.05 409.84 L355.45 410.42 L355.85 410.98 L356.25 411.53 L356.65 412.06 L357.05 412.57 L357.45 413.07 L357.85 413.55 L358.25 414.02 L358.65 414.47 L359.05 414.91 L359.45 415.34 L359.85 415.76 L360.25 416.16 L360.65 416.55 L361.05 416.93 L361.45 417.3 L361.85 417.66 L362.25 418 L362.65 418.34 L363.05 418.67 L363.45 418.99 L363.85 419.3 L364.25 419.6 L364.65 419.89 L365.05 420.18 L365.45 420.45 L365.85 420.72 L366.25 420.98 L366.65 421.23 L367.05 421.48 L367.45 421.72 L367.85 421.95 L368.25 422.18 L368.65 422.4 L369.05 422.61 L369.45 422.82 L369.85 423.03 L370 423.1" fill="none" stroke="#8e2aa6" stroke-width="1.15" stroke-linejoin="round" />
<path d="M51.5 426.3 L77.6 426.3 L77.6 426.3 L77.65 424.61 L77.78 420.63 L77.92 417.3 L78.05 414.51 L78.18 412.17 L78.32 410.21 L78.45 408.58 L78.58 407.21 L78.72 406.06 L78.85 405.1 L78.98 404.29 L79.12 403.62 L79.25 403.06 L79.38 402.59 L79.52 402.19 L79.65 401.86 L80.05 399.13 L80.45 396.64 L80.85 394.56 L81.25 392.79 L81.65 391.26 L82.05 389.94 L82.45 388.78 L82.85 387.76 L83.25 386.86 L83.65 386.07 L84.05 385.37 L84.45 384.75 L84.85 384.2 L85.25 383.72 L85.65 383.29 L86.05 382.91 L86.45 382.57 L86.85 382.27 L87.25 382.01 L87.65 381.77 L88.05 381.57 L88.45 381.38 L88.85 381.22 L89.25 381.07 L89.65 380.95 L90.05 380.83 L90.45 380.73 L90.85 380.64 L91.25 380.57 L91.65 380.5 L92.05 380.43 L92.3 380.4 L92.35 380.9 L92.48 382.19 L92.62 383.44 L92.75 384.65 L92.88 385.81 L93.02 386.92 L93.15 388 L93.28 389.04 L93.42 390.05 L93.55 391.02 L93.68 391.95 L93.82 392.86 L93.95 393.73 L94.08 394.58 L94.22 395.39 L94.35 396.18 L94.75 398.4 L95.15 400.41 L95.55 402.25 L95.95 403.92 L96.35 405.44 L96.75 406.84 L97.15 408.13 L97.55 409.31 L97.95 410.4 L98.35 411.41 L98.75 412.34 L99.15 413.2 L99.55 414 L99.95 414.75 L100.35 415.44 L100.75 416.09 L101.15 416.69 L101.55 417.26 L101.95 417.78 L102.35 418.28 L102.75 418.74 L103.15 419.18 L103.55 419.58 L103.95 419.97 L104.35 420.33 L104.75 420.66 L105.15 420.98 L105.55 421.28 L105.95 421.56 L106.35 421.83 L106.75 422.08 L107.15 422.32 L107.3 422.4 L107.3 422.4 L107.35 420.59 L107.48 416.09 L107.62 411.99 L107.75 408.27 L107.88 404.89 L108.02 401.81 L108.15 399.01 L108.28 396.46 L108.42 394.14 L108.55 392.02 L108.68 390.08 L108.82 388.32 L108.95 386.71 L109.08 385.23 L109.22 383.88 L109.35 382.65 L109.75 379.52 L110.15 377.08 L110.55 375.17 L110.95 373.65 L111.35 372.42 L111.75 371.43 L112.15 370.6 L112.55 369.92 L112.95 369.34 L113.35 368.84 L113.75 368.41 L114.15 368.03 L114.55 367.7 L114.95 367.4 L115.35 367.13 L115.75 366.9 L116.15 366.68 L116.55 366.49 L116.95 366.31 L117.35 366.14 L117.75 366 L118.15 365.86 L118.55 365.73 L118.95 365.62 L119.35 365.51 L119.4 365.5 L119.45 366.13 L119.58 367.76 L119.72 369.33 L119.85 370.84 L119.98 372.3 L120.12 373.7 L120.25 375.06 L120.38 376.37 L120.52 377.63 L120.65 378.85 L120.78 380.03 L120.92 381.17 L121.05 382.28 L121.18 383.34 L121.32 384.37 L121.45 385.37 L121.85 388.18 L122.25 390.74 L122.65 393.07 L123.05 395.2 L123.45 397.16 L123.85 398.97 L124.25 400.63 L124.65 402.17 L125.05 403.6 L125.45 404.93 L125.85 406.16 L126.25 407.32 L126.65 408.4 L127.05 409.41 L127.45 410.35 L127.85 411.24 L128.25 412.08 L128.65 412.87 L129.05 413.62 L129.45 414.32 L129.85 414.98 L130.25 415.61 L130.65 416.21 L131.05 416.77 L131.45 417.3 L131.85 417.81 L132.25 418.29 L132.65 418.75 L133.05 419.19 L133.45 419.6 L133.85 420 L134.25 420.37 L134.65 420.73 L135.05 421.07 L135.45 421.4 L135.85 421.71 L136.25 422 L136.65 422.28 L137.05 422.55 L137.45 422.81 L137.85 423.06 L138.25 423.29 L138.65 423.52 L139.05 423.73 L139.45 423.94 L139.85 424.14 L140.25 424.33 L140.65 424.51 L141.05 424.68 L141.45 424.85 L141.85 425.01 L142.25 425.16 L142.65 425.31 L143.05 425.45 L143.45 425.58 L143.85 425.71 L144.25 425.84 L144.65 425.96 L145.05 426.07 L145.45 426.19 L145.5 426.2 L145.5 426.2 L145.55 423.75 L145.68 417.62 L145.82 412.05 L145.95 406.99 L146.08 402.4 L146.22 398.21 L146.35 394.41 L146.48 390.94 L146.62 387.78 L146.75 384.9 L146.88 382.28 L147.02 379.88 L147.15 377.69 L147.28 375.68 L147.42 373.85 L147.55 372.17 L147.95 367.91 L148.35 364.6 L148.75 362 L149.15 359.94 L149.55 358.27 L149.95 356.92 L150.35 355.8 L150.75 354.87 L151.15 354.08 L151.55 353.4 L151.95 352.81 L152.35 352.3 L152.75 351.85 L153.15 351.45 L153.55 351.09 L153.95 350.76 L154.35 350.47 L154.75 350.2 L155.15 349.96 L155.55 349.74 L155.95 349.54 L156.35 349.35 L156.75 349.18 L157.15 349.02 L157.55 348.88 L157.95 348.75 L158.35 348.63 L158.75 348.51 L158.8 348.5 L158.85 349.21 L158.98 351.04 L159.12 352.8 L159.25 354.5 L159.38 356.13 L159.52 357.71 L159.65 359.23 L159.78 360.69 L159.92 362.1 L160.05 363.46 L160.18 364.78 L160.32 366.04 L160.45 367.27 L160.58 368.46 L160.72 369.6 L160.85 370.71 L161.25 373.83 L161.65 376.66 L162.05 379.25 L162.45 381.63 L162.85 383.81 L163.25 385.83 L163.65 387.69 L164.05 389.43 L164.45 391.05 L164.85 392.56 L165.25 393.98 L165.65 395.31 L166.05 396.57 L166.45 397.76 L166.85 398.88 L167.25 399.94 L167.65 400.96 L168.05 401.92 L168.45 402.83 L168.85 403.71 L169.25 404.54 L169.65 405.34 L170.05 406.1 L170.45 406.83 L170.85 407.53 L171.25 408.2 L171.65 408.84 L172.05 409.46 L172.45 410.06 L172.85 410.63 L173.25 411.17 L173.65 411.7 L174.05 412.21 L174.45 412.69 L174.85 413.16 L175.25 413.61 L175.65 414.05 L176.05 414.47 L176.45 414.87 L176.85 415.26 L177.25 415.63 L177.65 415.99 L178.05 416.34 L178.45 416.67 L178.85 416.99 L179.25 417.3 L179.65 417.6 L180.05 417.89 L180.45 418.16 L180.85 418.43 L181.25 418.69 L181.65 418.93 L182.05 419.17 L182.1 419.2 L182.1 419.2 L182.15 416.53 L182.28 409.87 L182.42 403.82 L182.55 398.33 L182.68 393.33 L182.82 388.79 L182.95 384.65 L183.08 380.88 L183.22 377.45 L183.35 374.32 L183.48 371.47 L183.62 368.86 L183.75 366.48 L183.88 364.3 L184.02 362.31 L184.15 360.48 L184.55 355.86 L184.95 352.26 L185.35 349.44 L185.75 347.19 L186.15 345.38 L186.55 343.91 L186.95 342.7 L187.35 341.68 L187.75 340.82 L188.15 340.09 L188.55 339.45 L188.95 338.89 L189.35 338.4 L189.75 337.96 L190.15 337.57 L190.55 337.22 L190.95 336.9 L191.35 336.61 L191.75 336.35 L192.15 336.11 L192.55 335.89 L192.95 335.69 L193.35 335.5 L193.75 335.33 L194.15 335.18 L194.55 335.03 L194.95 334.9 L195.35 334.78 L195.75 334.66 L196.15 334.56 L196.4 334.5 L196.45 335.04 L196.58 336.45 L196.72 337.82 L196.85 339.14 L196.98 340.42 L197.12 341.67 L197.25 342.87 L197.38 344.04 L197.52 345.18 L197.65 346.29 L197.78 347.37 L197.92 348.42 L198.05 349.44 L198.18 350.44 L198.32 351.41 L198.45 352.36 L198.85 355.08 L199.25 357.63 L199.65 360.03 L200.05 362.3 L200.45 364.44 L200.85 366.49 L201.25 368.43 L201.65 370.29 L202.05 372.08 L202.45 373.79 L202.85 375.43 L203.25 377.01 L203.65 378.53 L204.05 380 L204.45 381.42 L204.85 382.79 L205.25 384.11 L205.65 385.39 L206.05 386.63 L206.45 387.82 L206.85 388.98 L207.25 390.1 L207.65 391.19 L208.05 392.24 L208.45 393.26 L208.85 394.25 L209.25 395.21 L209.65 396.13 L210.05 397.03 L210.45 397.9 L210.85 398.75 L211.25 399.56 L211.65 400.36 L212.05 401.13 L212.45 401.87 L212.85 402.59 L213.25 403.29 L213.65 403.97 L214.05 404.63 L214.45 405.27 L214.85 405.89 L215.25 406.49 L215.65 407.07 L216.05 407.63 L216.45 408.18 L216.85 408.71 L217.25 409.22 L217.65 409.72 L218.05 410.2 L218.45 410.67 L218.85 411.12 L219.25 411.56 L219.65 411.99 L220.05 412.4 L220.45 412.8 L220.85 413.19 L221.25 413.57 L221.65 413.93 L222.05 414.29 L222.45 414.63 L222.85 414.96 L223.25 415.28 L223.65 415.6 L224.05 415.9 L224.45 416.19 L224.85 416.48 L225.25 416.75 L225.65 417.02 L226.05 417.28 L226.45 417.53 L226.85 417.77 L227.25 418.01 L227.65 418.24 L228.05 418.46 L228.45 418.67 L228.85 418.88 L229.25 419.08 L229.65 419.28 L229.7 419.3 L229.7 419.3 L229.75 415.73 L229.88 406.93 L230.02 399.1 L230.15 392.12 L230.28 385.89 L230.42 380.34 L230.55 375.38 L230.68 370.94 L230.82 366.98 L230.95 363.44 L231.08 360.27 L231.22 357.43 L231.35 354.88 L231.48 352.59 L231.62 350.53 L231.75 348.68 L232.15 344.15 L232.55 340.81 L232.95 338.3 L233.35 336.4 L233.75 334.93 L234.15 333.77 L234.55 332.85 L234.95 332.1 L235.35 331.48 L235.75 330.96 L236.15 330.52 L236.55 330.13 L236.95 329.8 L237.35 329.51 L237.75 329.26 L238.15 329.03 L238.55 328.83 L238.95 328.65 L239.35 328.49 L239.75 328.34 L240.15 328.21 L240.55 328.09 L240.95 327.99 L241.35 327.89 L241.75 327.81 L242.15 327.73 L242.3 327.7 L242.35 328.48 L242.48 330.5 L242.62 332.45 L242.75 334.33 L242.88 336.15 L243.02 337.89 L243.15 339.58 L243.28 341.21 L243.42 342.79 L243.55 344.31 L243.68 345.78 L243.82 347.2 L243.95 348.57 L244.08 349.91 L244.22 351.19 L244.35 352.44 L244.75 355.97 L245.15 359.19 L245.55 362.14 L245.95 364.87 L246.35 367.38 L246.75 369.72 L247.15 371.9 L247.55 373.93 L247.95 375.84 L248.35 377.64 L248.75 379.33 L249.15 380.94 L249.55 382.46 L249.95 383.91 L250.35 385.28 L250.75 386.6 L251.15 387.86 L251.55 389.07 L251.95 390.23 L252.35 391.34 L252.75 392.41 L253.15 393.45 L253.55 394.44 L253.95 395.41 L254.35 396.34 L254.75 397.23 L255.15 398.1 L255.55 398.95 L255.95 399.76 L256.35 400.55 L256.75 401.32 L257.15 402.06 L257.55 402.78 L257.95 403.48 L258.35 404.16 L258.75 404.82 L259.15 405.46 L259.55 406.08 L259.95 406.69 L260.35 407.27 L260.75 407.84 L261.15 408.4 L261.55 408.94 L261.95 409.46 L262.35 409.97 L262.75 410.47 L263.15 410.95 L263.55 411.42 L263.95 411.87 L264.35 412.31 L264.75 412.75 L265.15 413.17 L265.55 413.57 L265.95 413.97 L266.35 414.36 L266.75 414.73 L267.15 415.1 L267.55 415.45 L267.95 415.8 L268.35 416.14 L268.75 416.46 L269.15 416.78 L269.55 417.09 L269.95 417.4 L270.35 417.69 L270.75 417.98 L271.15 418.26 L271.55 418.53 L271.95 418.79 L272.35 419.05 L272.75 419.3 L273.15 419.55 L273.55 419.78 L273.95 420.01 L274.35 420.24 L274.75 420.46 L275.15 420.67 L275.2 420.7 L275.2 420.7 L275.25 414.1 L275.38 398.29 L275.52 384.77 L275.65 373.22 L275.78 363.34 L275.92 354.89 L276.05 347.68 L276.18 341.51 L276.32 336.23 L276.45 331.72 L276.58 327.87 L276.72 324.58 L276.85 321.76 L276.98 319.35 L277.12 317.29 L277.25 315.54 L277.65 311.65 L278.05 309.22 L278.45 307.7 L278.85 306.76 L279.25 306.16 L279.65 305.79 L280.05 305.56 L280.45 305.42 L280.85 305.33 L281.25 305.27 L281.65 305.24 L282.05 305.22 L282.45 305.2 L282.85 305.35 L283.25 305.53 L283.65 305.71 L284.05 305.88 L284.45 306.06 L284.85 306.23 L285.25 306.38 L285.65 306.52 L286.05 306.65 L286.45 306.78 L286.85 306.92 L287.25 307.05 L287.65 307.18 L288.05 307.37 L288.45 307.57 L288.85 307.77 L289.25 307.97 L289.65 308.17 L290.05 308.37 L290.45 308.57 L290.85 308.77 L291.25 309.07 L291.65 309.38 L292.05 309.68 L292.45 309.99 L292.85 310.3 L293.25 310.61 L293.5 310.8 L293.55 311.66 L293.68 313.92 L293.82 316.11 L293.95 318.25 L294.08 320.33 L294.22 322.35 L294.35 324.32 L294.48 326.24 L294.62 328.11 L294.75 329.93 L294.88 331.71 L295.02 333.44 L295.15 335.12 L295.28 336.77 L295.42 338.37 L295.55 339.93 L295.95 344.4 L296.35 348.54 L296.75 352.4 L297.15 355.99 L297.55 359.35 L297.95 362.48 L298.35 365.41 L298.75 368.16 L299.15 370.74 L299.55 373.16 L299.95 375.44 L300.35 377.59 L300.75 379.61 L301.15 381.52 L301.55 383.33 L301.95 385.03 L302.35 386.65 L302.75 388.19 L303.15 389.65 L303.55 391.03 L303.95 392.35 L304.35 393.6 L304.75 394.79 L305.15 395.93 L305.55 397.02 L305.95 398.05 L306.35 399.04 L306.75 399.99 L307.15 400.89 L307.55 401.76 L307.95 402.59 L308.35 403.38 L308.75 404.14 L309.15 404.87 L309.55 405.57 L309.95 406.24 L310.35 406.88 L310.75 407.5 L311.15 408.09 L311.55 408.66 L311.95 409.21 L312.35 409.73 L312.75 410.24 L313.15 410.72 L313.55 411.19 L313.95 411.64 L314.35 412.07 L314.75 412.48 L315.15 412.88 L315.55 413.26 L315.95 413.63 L316.35 413.99 L316.75 414.33 L317.15 414.66 L317.55 414.97 L317.95 415.27 L318.35 415.57 L318.75 415.85 L319.15 416.12 L319.55 416.38 L319.95 416.63 L320.35 416.87 L320.75 417.1 L321.15 417.32 L321.55 417.53 L321.95 417.74 L322.35 417.93 L322.75 418.12 L323.15 418.3 L323.55 418.48 L323.6 418.5 L323.6 418.5 L323.65 410.91 L323.78 392.61 L323.92 376.84 L324.05 363.23 L324.18 351.5 L324.32 341.39 L324.45 332.67 L324.58 325.14 L324.72 318.66 L324.85 313.07 L324.98 308.24 L325.12 304.08 L325.25 300.5 L325.38 297.41 L325.52 294.74 L325.65 292.44 L326.05 287.27 L326.45 284.43 L326.85 285.49 L327.25 286.55 L327.65 287.61 L328.05 288.68 L328.45 289.74 L328.85 290.8 L329.25 291.86 L329.65 292.92 L330.05 293.98 L330.45 295.04 L330.85 296.1 L331.25 297.16 L331.65 298.22 L332.05 299.28 L332.45 300.34 L332.85 301.4 L333.25 302.46 L333.65 303.53 L334.05 304.59 L334.45 305.65 L334.85 306.71 L335.25 307.77 L335.65 308.83 L336.05 309.89 L336.45 310.95 L336.85 312.01 L337.25 313.07 L337.6 314 L337.65 315.27 L337.78 318.53 L337.92 321.63 L338.05 324.56 L338.18 327.35 L338.32 330 L338.45 332.52 L338.58 334.92 L338.72 337.21 L338.85 339.38 L338.98 341.45 L339.12 343.43 L339.25 345.32 L339.38 347.13 L339.52 348.85 L339.65 350.5 L340.05 355.05 L340.45 359.07 L340.85 362.65 L341.25 365.86 L341.65 368.75 L342.05 371.38 L342.45 373.78 L342.85 375.99 L343.25 378.04 L343.65 379.94 L344.05 381.71 L344.45 383.38 L344.85 384.94 L345.25 386.42 L345.65 387.83 L346.05 389.16 L346.45 390.43 L346.85 391.65 L347.25 392.81 L347.65 393.92 L348.05 394.99 L348.45 396.01 L348.85 397 L349.25 397.95 L349.65 398.86 L350.05 399.74 L350.45 400.59 L350.85 401.4 L351.25 402.19 L351.65 402.95 L352.05 403.69 L352.45 404.39 L352.85 405.08 L353.25 405.74 L353.65 406.38 L354.05 406.99 L354.45 407.59 L354.85 408.17 L355.25 408.72 L355.65 409.26 L356.05 409.78 L356.45 410.28 L356.85 410.76 L357.25 411.23 L357.65 411.68 L358.05 412.12 L358.45 412.54 L358.85 412.95 L359.25 413.34 L359.65 413.72 L360.05 414.09 L360.45 414.45 L360.85 414.79 L361.25 415.12 L361.65 415.44 L362.05 415.75 L362.45 416.05 L362.85 416.34 L363.25 416.62 L363.65 416.88 L364.05 417.14 L364.45 417.4 L364.85 417.64 L365.25 417.87 L365.65 418.1 L366.05 418.32 L366.45 418.53 L366.85 418.73 L367.25 418.93 L367.65 419.11 L368.05 419.3 L368.45 419.47 L368.85 419.64 L369.25 419.81 L369.65 419.97 L370 420.1" fill="none" stroke="#1a1a1a" stroke-width="1.15" stroke-linejoin="round" />
<path d="M51.5 426.3 L77.6 426.3 L77.6 426.3 L77.65 424.61 L77.78 420.63 L77.92 417.29 L78.05 414.5 L78.18 412.16 L78.32 410.2 L78.45 408.57 L78.58 407.19 L78.72 406.05 L78.85 405.08 L78.98 404.28 L79.12 403.61 L79.25 403.04 L79.38 402.57 L79.52 402.18 L79.65 401.84 L80.05 398.15 L80.45 394.69 L80.85 391.76 L81.25 389.25 L81.65 387.07 L82.05 385.18 L82.45 383.52 L82.85 382.06 L83.25 380.78 L83.65 379.66 L84.05 378.67 L84.45 377.79 L84.85 377.02 L85.25 376.34 L85.65 375.74 L86.05 375.21 L86.45 374.74 L86.85 374.33 L87.25 373.97 L87.65 373.65 L88.05 373.36 L88.45 373.11 L88.85 372.89 L89.25 372.7 L89.65 372.53 L90.05 372.37 L90.45 372.24 L90.85 372.12 L91.25 372.02 L91.65 371.93 L92.05 371.85 L92.3 371.8 L92.35 372.39 L92.48 373.94 L92.62 375.42 L92.75 376.85 L92.88 378.22 L93.02 379.54 L93.15 380.82 L93.28 382.04 L93.42 383.22 L93.55 384.36 L93.68 385.45 L93.82 386.51 L93.95 387.53 L94.08 388.51 L94.22 389.46 L94.35 390.37 L94.75 392.94 L95.15 395.25 L95.55 397.35 L95.95 399.26 L96.35 401 L96.75 402.59 L97.15 404.04 L97.55 405.38 L97.95 406.62 L98.35 407.76 L98.75 408.81 L99.15 409.79 L99.55 410.7 L99.95 411.54 L100.35 412.34 L100.75 413.07 L101.15 413.77 L101.55 414.41 L101.95 415.02 L102.35 415.6 L102.75 416.13 L103.15 416.64 L103.55 417.12 L103.95 417.57 L104.35 417.99 L104.75 418.4 L105.15 418.78 L105.55 419.14 L105.95 419.48 L106.35 419.8 L106.75 420.11 L107.15 420.4 L107.3 420.5 L107.3 420.5 L107.35 418.19 L107.48 412.44 L107.62 407.22 L107.75 402.49 L107.88 398.19 L108.02 394.29 L108.15 390.75 L108.28 387.53 L108.42 384.6 L108.55 381.94 L108.68 379.51 L108.82 377.3 L108.95 375.29 L109.08 373.46 L109.22 371.78 L109.35 370.25 L109.75 366.4 L110.15 363.43 L110.55 361.12 L110.95 359.3 L111.35 357.86 L111.75 356.7 L112.15 355.75 L112.55 354.97 L112.95 354.31 L113.35 353.75 L113.75 353.26 L114.15 352.84 L114.55 352.47 L114.95 352.15 L115.35 351.85 L115.75 351.59 L116.15 351.35 L116.55 351.13 L116.95 350.93 L117.35 350.74 L117.75 350.57 L118.15 350.42 L118.55 350.27 L118.95 350.14 L119.35 350.01 L119.4 350 L119.45 350.74 L119.58 352.64 L119.72 354.47 L119.85 356.23 L119.98 357.92 L120.12 359.54 L120.25 361.1 L120.38 362.6 L120.52 364.05 L120.65 365.44 L120.78 366.77 L120.92 368.06 L121.05 369.31 L121.18 370.5 L121.32 371.66 L121.45 372.78 L121.85 375.9 L122.25 378.72 L122.65 381.28 L123.05 383.62 L123.45 385.75 L123.85 387.71 L124.25 389.52 L124.65 391.19 L125.05 392.75 L125.45 394.19 L125.85 395.55 L126.25 396.82 L126.65 398.01 L127.05 399.14 L127.45 400.21 L127.85 401.22 L128.25 402.18 L128.65 403.1 L129.05 403.97 L129.45 404.8 L129.85 405.6 L130.25 406.36 L130.65 407.1 L131.05 407.8 L131.45 408.48 L131.85 409.13 L132.25 409.76 L132.65 410.36 L133.05 410.94 L133.45 411.51 L133.85 412.05 L134.25 412.57 L134.65 413.08 L135.05 413.57 L135.45 414.04 L135.85 414.5 L136.25 414.94 L136.65 415.37 L137.05 415.79 L137.45 416.19 L137.85 416.58 L138.25 416.95 L138.65 417.32 L139.05 417.67 L139.45 418.02 L139.85 418.35 L140.25 418.67 L140.65 418.98 L141.05 419.28 L141.45 419.58 L141.85 419.86 L142.25 420.14 L142.65 420.41 L143.05 420.67 L143.45 420.92 L143.85 421.16 L144.25 421.4 L144.65 421.63 L145.05 421.86 L145.45 422.07 L145.5 422.1 L145.5 422.1 L145.55 419.05 L145.68 411.45 L145.82 404.55 L145.95 398.29 L146.08 392.62 L146.22 387.46 L146.35 382.78 L146.48 378.52 L146.62 374.65 L146.75 371.13 L146.88 367.93 L147.02 365.01 L147.15 362.35 L147.28 359.92 L147.42 357.7 L147.55 355.68 L147.95 350.59 L148.35 346.66 L148.75 343.61 L149.15 341.22 L149.55 339.31 L149.95 337.77 L150.35 336.52 L150.75 335.48 L151.15 334.61 L151.55 333.87 L151.95 333.23 L152.35 332.68 L152.75 332.19 L153.15 331.75 L153.55 331.37 L153.95 331.01 L154.35 330.7 L154.75 330.41 L155.15 330.14 L155.55 329.9 L155.95 329.67 L156.35 329.47 L156.75 329.28 L157.15 329.1 L157.55 328.94 L157.95 328.79 L158.35 328.65 L158.75 328.52 L158.8 328.5 L158.85 329.4 L158.98 331.74 L159.12 333.98 L159.25 336.13 L159.38 338.2 L159.52 340.18 L159.65 342.08 L159.78 343.91 L159.92 345.67 L160.05 347.36 L160.18 348.98 L160.32 350.55 L160.45 352.05 L160.58 353.51 L160.72 354.91 L160.85 356.25 L161.25 360.02 L161.65 363.42 L162.05 366.5 L162.45 369.29 L162.85 371.84 L163.25 374.18 L163.65 376.34 L164.05 378.33 L164.45 380.18 L164.85 381.91 L165.25 383.52 L165.65 385.03 L166.05 386.46 L166.45 387.8 L166.85 389.08 L167.25 390.29 L167.65 391.44 L168.05 392.54 L168.45 393.6 L168.85 394.6 L169.25 395.57 L169.65 396.5 L170.05 397.39 L170.45 398.25 L170.85 399.08 L171.25 399.88 L171.65 400.66 L172.05 401.4 L172.45 402.13 L172.85 402.83 L173.25 403.5 L173.65 404.16 L174.05 404.8 L174.45 405.42 L174.85 406.01 L175.25 406.59 L175.65 407.16 L176.05 407.7 L176.45 408.24 L176.85 408.75 L177.25 409.25 L177.65 409.74 L178.05 410.21 L178.45 410.67 L178.85 411.11 L179.25 411.55 L179.65 411.97 L180.05 412.38 L180.45 412.77 L180.85 413.16 L181.25 413.54 L181.65 413.9 L182.05 414.26 L182.1 414.3 L182.1 414.3 L182.15 410.94 L182.28 402.57 L182.42 394.97 L182.55 388.08 L182.68 381.83 L182.82 376.15 L182.95 370.99 L183.08 366.31 L183.22 362.04 L183.35 358.17 L183.48 354.64 L183.62 351.42 L183.75 348.49 L183.88 345.82 L184.02 343.38 L184.15 341.15 L184.55 335.54 L184.95 331.22 L185.35 327.86 L185.75 325.22 L186.15 323.12 L186.55 321.42 L186.95 320.04 L187.35 318.9 L187.75 317.94 L188.15 317.13 L188.55 316.42 L188.95 315.81 L189.35 315.28 L189.75 314.8 L190.15 314.37 L190.55 313.98 L190.95 313.63 L191.35 313.31 L191.75 313.02 L192.15 312.75 L192.55 312.51 L192.95 312.28 L193.35 312.07 L193.75 311.87 L194.15 311.69 L194.55 311.53 L194.95 311.37 L195.35 311.23 L195.75 311.1 L196.15 310.97 L196.4 310.9 L196.45 311.93 L196.58 314.59 L196.72 317.14 L196.85 319.58 L196.98 321.92 L197.12 324.17 L197.25 326.32 L197.38 328.39 L197.52 330.38 L197.65 332.28 L197.78 334.12 L197.92 335.88 L198.05 337.58 L198.18 339.21 L198.32 340.78 L198.45 342.29 L198.85 346.51 L199.25 350.31 L199.65 353.73 L200.05 356.83 L200.45 359.66 L200.85 362.24 L201.25 364.62 L201.65 366.81 L202.05 368.84 L202.45 370.73 L202.85 372.5 L203.25 374.15 L203.65 375.71 L204.05 377.19 L204.45 378.58 L204.85 379.91 L205.25 381.17 L205.65 382.38 L206.05 383.53 L206.45 384.64 L206.85 385.71 L207.25 386.73 L207.65 387.72 L208.05 388.67 L208.45 389.59 L208.85 390.48 L209.25 391.34 L209.65 392.17 L210.05 392.98 L210.45 393.77 L210.85 394.53 L211.25 395.27 L211.65 395.98 L212.05 396.68 L212.45 397.36 L212.85 398.02 L213.25 398.66 L213.65 399.28 L214.05 399.89 L214.45 400.48 L214.85 401.05 L215.25 401.61 L215.65 402.15 L216.05 402.68 L216.45 403.19 L216.85 403.7 L217.25 404.18 L217.65 404.66 L218.05 405.12 L218.45 405.57 L218.85 406.01 L219.25 406.44 L219.65 406.85 L220.05 407.25 L220.45 407.65 L220.85 408.03 L221.25 408.4 L221.65 408.77 L222.05 409.12 L222.45 409.46 L222.85 409.8 L223.25 410.12 L223.65 410.44 L224.05 410.75 L224.45 411.05 L224.85 411.34 L225.25 411.62 L225.65 411.9 L226.05 412.17 L226.45 412.43 L226.85 412.68 L227.25 412.93 L227.65 413.17 L228.05 413.4 L228.45 413.63 L228.85 413.85 L229.25 414.07 L229.65 414.27 L229.7 414.3 L229.7 414.3 L229.75 409.83 L229.88 398.76 L230.02 388.82 L230.15 379.9 L230.28 371.88 L230.42 364.69 L230.55 358.22 L230.68 352.41 L230.82 347.19 L230.95 342.49 L231.08 338.27 L231.22 334.47 L231.35 331.05 L231.48 327.97 L231.62 325.19 L231.75 322.7 L232.15 316.58 L232.55 312.08 L232.95 308.75 L233.35 306.28 L233.75 304.43 L234.15 303.04 L234.55 301.98 L234.95 301.17 L235.35 300.54 L235.75 300.05 L236.15 299.66 L236.55 299.36 L236.95 299.11 L237.35 298.91 L237.75 298.75 L238.15 298.61 L238.55 298.5 L238.95 298.4 L239.35 298.32 L239.75 298.26 L240.15 298.2 L240.55 298.15 L240.95 298.11 L241.35 298.07 L241.75 298.04 L242.15 298.01 L242.3 298 L242.35 300.26 L242.48 305.76 L242.62 310.59 L242.75 314.85 L242.88 318.64 L243.02 322.01 L243.15 325.03 L243.28 327.75 L243.42 330.22 L243.55 332.47 L243.68 334.53 L243.82 336.43 L243.95 338.2 L244.08 339.85 L244.22 341.39 L244.35 342.85 L244.75 346.8 L245.15 350.28 L245.55 353.43 L245.95 356.35 L246.35 359.08 L246.75 361.67 L247.15 364.13 L247.55 366.48 L247.95 368.73 L248.35 370.88 L248.75 372.95 L249.15 374.94 L249.55 376.86 L249.95 378.69 L250.35 380.46 L250.75 382.16 L251.15 383.79 L251.55 385.36 L251.95 386.86 L252.35 388.31 L252.75 389.71 L253.15 391.05 L253.55 392.33 L253.95 393.57 L254.35 394.76 L254.75 395.91 L255.15 397.01 L255.55 398.06 L255.95 399.08 L256.35 400.06 L256.75 400.99 L257.15 401.9 L257.55 402.76 L257.95 403.59 L258.35 404.39 L258.75 405.16 L259.15 405.9 L259.55 406.61 L259.95 407.29 L260.35 407.95 L260.75 408.58 L261.15 409.18 L261.55 409.76 L261.95 410.32 L262.35 410.86 L262.75 411.37 L263.15 411.87 L263.55 412.34 L263.95 412.8 L264.35 413.23 L264.75 413.65 L265.15 414.06 L265.55 414.44 L265.95 414.82 L266.35 415.17 L266.75 415.51 L267.15 415.84 L267.55 416.16 L267.95 416.46 L268.35 416.75 L268.75 417.03 L269.15 417.29 L269.55 417.55 L269.95 417.79 L270.35 418.03 L270.75 418.25 L271.15 418.47 L271.55 418.68 L271.95 418.87 L272.35 419.06 L272.75 419.25 L273.15 419.42 L273.55 419.59 L273.95 419.75 L274.35 419.9 L274.75 420.04 L275.15 420.18 L275.2 420.2 L275.2 420.2 L275.25 411.59 L275.38 391.11 L275.52 373.77 L275.65 359.09 L275.78 346.67 L275.92 336.15 L276.05 327.25 L276.18 319.71 L276.32 313.33 L276.45 307.93 L276.58 303.36 L276.72 299.49 L276.85 296.22 L276.98 293.44 L277.12 291.1 L277.25 289.11 L277.65 284.8 L278.05 282.19 L278.45 280.6 L278.85 279.64 L279.25 279.06 L279.65 278.7 L280.05 278.49 L280.45 278.4 L280.85 278.39 L281.25 278.38 L281.65 278.37 L282.05 278.36 L282.45 278.35 L282.85 278.34 L283.25 278.33 L283.65 278.32 L284.05 278.31 L284.45 278.3 L284.85 278.77 L285.25 279.51 L285.65 280.26 L286.05 281 L286.45 281.74 L286.85 282.49 L287.25 283.23 L287.65 283.85 L288.05 284.25 L288.45 284.65 L288.85 285.05 L289.25 285.4 L289.65 285.66 L290.05 285.92 L290.45 286.18 L290.85 286.45 L291.25 286.71 L291.65 286.97 L292.05 287.23 L292.45 287.5 L292.85 287.77 L293.25 288.03 L293.5 288.2 L293.55 289.84 L293.68 294.06 L293.82 298.09 L293.95 301.93 L294.08 305.6 L294.22 309.09 L294.35 312.43 L294.48 315.61 L294.62 318.65 L294.75 321.56 L294.88 324.34 L295.02 327 L295.15 329.55 L295.28 331.98 L295.42 334.32 L295.55 336.55 L295.95 342.73 L296.35 348.19 L296.75 353.05 L297.15 357.4 L297.55 361.29 L297.95 364.81 L298.35 368 L298.75 370.9 L299.15 373.56 L299.55 376 L299.95 378.25 L300.35 380.34 L300.75 382.29 L301.15 384.1 L301.55 385.8 L301.95 387.4 L302.35 388.91 L302.75 390.34 L303.15 391.69 L303.55 392.97 L303.95 394.19 L304.35 395.36 L304.75 396.47 L305.15 397.53 L305.55 398.55 L305.95 399.52 L306.35 400.46 L306.75 401.35 L307.15 402.22 L307.55 403.04 L307.95 403.84 L308.35 404.61 L308.75 405.35 L309.15 406.06 L309.55 406.74 L309.95 407.4 L310.35 408.04 L310.75 408.65 L311.15 409.24 L311.55 409.81 L311.95 410.37 L312.35 410.9 L312.75 411.41 L313.15 411.9 L313.55 412.38 L313.95 412.84 L314.35 413.29 L314.75 413.72 L315.15 414.13 L315.55 414.53 L315.95 414.92 L316.35 415.29 L316.75 415.65 L317.15 416 L317.55 416.33 L317.95 416.66 L318.35 416.97 L318.75 417.27 L319.15 417.56 L319.55 417.84 L319.95 418.12 L320.35 418.38 L320.75 418.63 L321.15 418.88 L321.55 419.11 L321.95 419.34 L322.35 419.56 L322.75 419.77 L323.15 419.98 L323.55 420.18 L323.6 420.2 L323.6 420.2 L323.65 409.69 L323.78 384.67 L323.92 363.5 L324.05 345.57 L324.18 330.4 L324.32 317.55 L324.45 306.68 L324.58 297.48 L324.72 289.69 L324.85 283.09 L324.98 277.51 L325.12 272.79 L325.25 268.79 L325.38 265.4 L325.52 262.54 L325.65 260.11 L326.05 260.7 L326.45 262.31 L326.85 263.91 L327.25 265.51 L327.65 267.12 L328.05 268.72 L328.45 270.32 L328.85 271.93 L329.25 273.53 L329.65 275.13 L330.05 276.74 L330.45 278.34 L330.85 279.94 L331.25 281.55 L331.65 283.15 L332.05 284.75 L332.45 286.36 L332.85 287.96 L333.25 289.56 L333.65 291.17 L334.05 292.77 L334.45 294.37 L334.85 295.98 L335.25 297.58 L335.65 299.18 L336.05 300.79 L336.45 302.39 L336.85 303.99 L337.25 305.6 L337.6 307 L337.65 308.47 L337.78 312.25 L337.92 315.82 L338.05 319.2 L338.18 322.41 L338.32 325.45 L338.45 328.33 L338.58 331.07 L338.72 333.67 L338.85 336.14 L338.98 338.49 L339.12 340.73 L339.25 342.86 L339.38 344.88 L339.52 346.82 L339.65 348.66 L340.05 353.72 L340.45 358.15 L340.85 362.06 L341.25 365.53 L341.65 368.63 L342.05 371.43 L342.45 373.96 L342.85 376.27 L343.25 378.4 L343.65 380.36 L344.05 382.18 L344.45 383.87 L344.85 385.46 L345.25 386.96 L345.65 388.37 L346.05 389.71 L346.45 390.98 L346.85 392.19 L347.25 393.34 L347.65 394.44 L348.05 395.5 L348.45 396.51 L348.85 397.49 L349.25 398.42 L349.65 399.32 L350.05 400.18 L350.45 401.02 L350.85 401.82 L351.25 402.59 L351.65 403.34 L352.05 404.06 L352.45 404.75 L352.85 405.42 L353.25 406.07 L353.65 406.7 L354.05 407.3 L354.45 407.88 L354.85 408.45 L355.25 408.99 L355.65 409.52 L356.05 410.02 L356.45 410.51 L356.85 410.99 L357.25 411.44 L357.65 411.89 L358.05 412.31 L358.45 412.73 L358.85 413.12 L359.25 413.51 L359.65 413.88 L360.05 414.24 L360.45 414.59 L360.85 414.92 L361.25 415.25 L361.65 415.56 L362.05 415.86 L362.45 416.15 L362.85 416.43 L363.25 416.71 L363.65 416.97 L364.05 417.22 L364.45 417.47 L364.85 417.7 L365.25 417.93 L365.65 418.15 L366.05 418.36 L366.45 418.57 L366.85 418.77 L367.25 418.96 L367.65 419.14 L368.05 419.32 L368.45 419.49 L368.85 419.66 L369.25 419.82 L369.65 419.97 L370 420.1" fill="none" stroke="#ff1a1a" stroke-width="1.15" stroke-linejoin="round" />
<path d="M51.3 420.6 L56 420.6 L57 421.7 L65 422.5 L77.6 423.3 L77.6 423.3 L77.65 421.8 L77.78 418.27 L77.92 415.31 L78.05 412.83 L78.18 410.76 L78.32 409.02 L78.45 407.57 L78.58 406.35 L78.72 405.33 L78.85 404.48 L78.98 403.76 L79.12 403.17 L79.25 402.67 L79.38 402.25 L79.52 401.9 L79.65 401.6 L80.05 400.12 L80.45 398.86 L80.85 397.84 L81.25 396.99 L81.65 396.25 L82.05 395.61 L82.45 395.04 L82.85 394.54 L83.25 394.09 L83.65 393.68 L84.05 393.31 L84.45 392.98 L84.85 392.69 L85.25 392.42 L85.65 392.17 L86.05 391.95 L86.45 391.75 L86.85 391.57 L87.25 391.41 L87.65 391.26 L88.05 391.13 L88.45 391.01 L88.85 390.9 L89.25 390.8 L89.65 390.71 L90.05 390.63 L90.45 390.56 L90.85 390.49 L91.25 390.43 L91.65 390.38 L92.05 390.33 L92.3 390.3 L92.35 392.12 L92.48 396.47 L92.62 400.15 L92.75 403.27 L92.88 405.92 L93.02 408.18 L93.15 410.09 L93.28 411.71 L93.42 413.09 L93.55 414.27 L93.68 415.27 L93.82 416.12 L93.95 416.85 L94.08 417.47 L94.22 418 L94.35 418.45 L94.75 419.47 L95.15 420.12 L95.55 420.55 L95.95 420.84 L96.35 421.05 L96.75 421.2 L97.15 421.32 L97.55 421.42 L97.95 421.51 L98.35 421.58 L98.75 421.65 L99.15 421.71 L99.55 421.76 L99.95 421.82 L100.35 421.87 L100.75 421.91 L101.15 421.95 L101.55 422 L101.95 422.03 L102.35 422.07 L102.75 422.11 L103.15 422.14 L103.55 422.17 L103.95 422.2 L104.35 422.23 L104.75 422.25 L105.15 422.28 L105.55 422.3 L105.95 422.33 L106.35 422.35 L106.75 422.37 L107.15 422.39 L107.3 422.4 L107.3 422.4 L107.35 419.72 L107.48 413.18 L107.62 407.43 L107.75 402.38 L107.88 397.94 L108.02 394.04 L108.15 390.6 L108.28 387.58 L108.42 384.91 L108.55 382.56 L108.68 380.49 L108.82 378.66 L108.95 377.04 L109.08 375.61 L109.22 374.35 L109.35 373.22 L109.75 370.56 L110.15 368.67 L110.55 367.32 L110.95 366.34 L111.35 365.6 L111.75 365.05 L112.15 364.62 L112.55 364.28 L112.95 364 L113.35 363.77 L113.75 363.58 L114.15 363.41 L114.55 363.27 L114.95 363.14 L115.35 363.03 L115.75 362.94 L116.15 362.85 L116.55 362.77 L116.95 362.7 L117.35 362.64 L117.75 362.58 L118.15 362.53 L118.55 362.48 L118.95 362.44 L119.35 362.4 L119.4 362.4 L119.45 365.81 L119.58 373.93 L119.72 380.82 L119.85 386.67 L119.98 391.62 L120.12 395.83 L120.25 399.4 L120.38 402.44 L120.52 405.02 L120.65 407.21 L120.78 409.08 L120.92 410.67 L121.05 412.02 L121.18 413.18 L121.32 414.17 L121.45 415.01 L121.85 416.89 L122.25 418.1 L122.65 418.88 L123.05 419.42 L123.45 419.79 L123.85 420.06 L124.25 420.27 L124.65 420.44 L125.05 420.59 L125.45 420.71 L125.85 420.82 L126.25 420.91 L126.65 421 L127.05 421.08 L127.45 421.16 L127.85 421.23 L128.25 421.29 L128.65 421.35 L129.05 421.41 L129.45 421.46 L129.85 421.51 L130.25 421.55 L130.65 421.59 L131.05 421.63 L131.45 421.67 L131.85 421.7 L132.25 421.74 L132.65 421.77 L133.05 421.79 L133.45 421.82 L133.85 421.84 L134.25 421.86 L134.65 421.88 L135.05 421.9 L135.45 421.92 L135.85 421.94 L136.25 421.95 L136.65 421.97 L137.05 421.98 L137.45 421.99 L137.85 422 L138.25 422.01 L138.65 422.02 L139.05 422.03 L139.45 422.04 L139.85 422.05 L140.25 422.05 L140.65 422.06 L141.05 422.07 L141.45 422.07 L141.85 422.08 L142.25 422.08 L142.65 422.08 L143.05 422.09 L143.45 422.09 L143.85 422.09 L144.25 422.09 L144.65 422.1 L145.05 422.1 L145.45 422.1 L145.5 422.1 L145.5 422.1 L145.55 418.08 L145.68 408.26 L145.82 399.65 L145.95 392.1 L146.08 385.47 L146.22 379.64 L146.35 374.53 L146.48 370.04 L146.62 366.09 L146.75 362.61 L146.88 359.56 L147.02 356.87 L147.15 354.5 L147.28 352.41 L147.42 350.57 L147.55 348.95 L147.95 345.12 L148.35 342.46 L148.75 340.59 L149.15 339.26 L149.55 338.3 L149.95 337.6 L150.35 337.07 L150.75 336.66 L151.15 336.34 L151.55 336.08 L151.95 335.87 L152.35 335.7 L152.75 335.55 L153.15 335.42 L153.55 335.31 L153.95 335.21 L154.35 335.13 L154.75 335.05 L155.15 334.98 L155.55 334.92 L155.95 334.86 L156.35 334.81 L156.75 334.77 L157.15 334.73 L157.55 334.69 L157.95 334.66 L158.35 334.63 L158.75 334.6 L158.8 334.6 L158.85 339.59 L158.98 351.49 L159.12 361.58 L159.25 370.14 L159.38 377.4 L159.52 383.56 L159.65 388.79 L159.78 393.24 L159.92 397.02 L160.05 400.23 L160.18 402.97 L160.32 405.3 L160.45 407.28 L160.58 408.98 L160.72 410.43 L160.85 411.67 L161.25 414.43 L161.65 416.2 L162.05 417.36 L162.45 418.14 L162.85 418.7 L163.25 419.11 L163.65 419.42 L164.05 419.68 L164.45 419.89 L164.85 420.08 L165.25 420.24 L165.65 420.39 L166.05 420.53 L166.45 420.65 L166.85 420.77 L167.25 420.88 L167.65 420.98 L168.05 421.08 L168.45 421.16 L168.85 421.25 L169.25 421.33 L169.65 421.4 L170.05 421.47 L170.45 421.53 L170.85 421.59 L171.25 421.65 L171.65 421.7 L172.05 421.75 L172.45 421.8 L172.85 421.85 L173.25 421.89 L173.65 421.93 L174.05 421.96 L174.45 422 L174.85 422.03 L175.25 422.06 L175.65 422.09 L176.05 422.12 L176.45 422.15 L176.85 422.17 L177.25 422.2 L177.65 422.22 L178.05 422.24 L178.45 422.26 L178.85 422.28 L179.25 422.3 L179.65 422.31 L180.05 422.33 L180.45 422.34 L180.85 422.36 L181.25 422.37 L181.65 422.39 L182.05 422.4 L182.1 422.4 L182.1 422.4 L182.15 415.56 L182.28 399.27 L182.42 385.45 L182.55 373.72 L182.68 363.77 L182.82 355.32 L182.95 348.14 L183.08 342.05 L183.22 336.86 L183.35 332.45 L183.48 328.7 L183.62 325.5 L183.75 322.77 L183.88 320.44 L184.02 318.45 L184.15 316.75 L184.55 312.96 L184.95 310.55 L185.35 308.97 L185.75 307.92 L186.15 307.19 L186.55 306.67 L186.95 306.28 L187.35 305.97 L187.75 305.73 L188.15 305.53 L188.55 305.35 L188.95 305.2 L189.35 305.07 L189.75 304.96 L190.15 304.86 L190.55 304.76 L190.95 304.68 L191.35 304.61 L191.75 304.54 L192.15 304.48 L192.55 304.42 L192.95 304.37 L193.35 304.33 L193.75 304.29 L194.15 304.25 L194.55 304.22 L194.95 304.19 L195.35 304.16 L195.75 304.14 L196.15 304.11 L196.4 304.1 L196.45 310.83 L196.58 326.86 L196.72 340.46 L196.85 351.99 L196.98 361.77 L197.12 370.07 L197.25 377.13 L197.38 383.11 L197.52 388.2 L197.65 392.53 L197.78 396.22 L197.92 399.36 L198.05 402.03 L198.18 404.31 L198.32 406.26 L198.45 407.93 L198.85 411.65 L199.25 414.02 L199.65 415.58 L200.05 416.63 L200.45 417.37 L200.85 417.91 L201.25 418.33 L201.65 418.67 L202.05 418.95 L202.45 419.19 L202.85 419.41 L203.25 419.6 L203.65 419.78 L204.05 419.94 L204.45 420.09 L204.85 420.23 L205.25 420.36 L205.65 420.48 L206.05 420.59 L206.45 420.7 L206.85 420.8 L207.25 420.89 L207.65 420.97 L208.05 421.05 L208.45 421.13 L208.85 421.2 L209.25 421.26 L209.65 421.32 L210.05 421.38 L210.45 421.43 L210.85 421.48 L211.25 421.53 L211.65 421.57 L212.05 421.61 L212.45 421.65 L212.85 421.68 L213.25 421.72 L213.65 421.75 L214.05 421.77 L214.45 421.8 L214.85 421.82 L215.25 421.85 L215.65 421.87 L216.05 421.89 L216.45 421.91 L216.85 421.92 L217.25 421.94 L217.65 421.95 L218.05 421.97 L218.45 421.98 L218.85 421.99 L219.25 422 L219.65 422.01 L220.05 422.02 L220.45 422.03 L220.85 422.04 L221.25 422.04 L221.65 422.05 L222.05 422.06 L222.45 422.06 L222.85 422.07 L223.25 422.07 L223.65 422.07 L224.05 422.08 L224.45 422.08 L224.85 422.08 L225.25 422.09 L225.65 422.09 L226.05 422.09 L226.45 422.09 L226.85 422.09 L227.25 422.1 L227.65 422.1 L228.05 422.1 L228.45 422.1 L228.85 422.1 L229.25 422.1 L229.65 422.1 L229.7 422.1 L229.7 422.1 L229.75 413.42 L229.88 392.73 L230.02 375.2 L230.15 360.33 L230.28 347.73 L230.42 337.03 L230.55 327.96 L230.68 320.25 L230.82 313.71 L230.95 308.15 L231.08 303.42 L231.22 299.4 L231.35 295.97 L231.48 293.05 L231.62 290.56 L231.75 288.43 L232.15 283.72 L232.55 280.71 L232.95 278.76 L233.35 277.45 L233.75 276.54 L234.15 275.87 L234.55 275.35 L234.95 274.94 L235.35 274.59 L235.75 274.28 L236.15 274.01 L236.55 273.76 L236.95 273.53 L237.35 273.31 L237.75 273.1 L238.15 272.91 L238.55 272.73 L238.95 272.55 L239.35 272.39 L239.75 272.23 L240.15 272.08 L240.55 271.94 L240.95 271.81 L241.35 271.68 L241.75 271.56 L242.15 271.44 L242.3 271.4 L242.35 279.99 L242.48 300.46 L242.62 317.82 L242.75 332.55 L242.88 345.04 L243.02 355.65 L243.15 364.65 L243.28 372.3 L243.42 378.8 L243.55 384.34 L243.68 389.04 L243.82 393.05 L243.95 396.47 L244.08 399.39 L244.22 401.88 L244.35 404.02 L244.75 408.77 L245.15 411.81 L245.55 413.81 L245.95 415.17 L246.35 416.13 L246.75 416.83 L247.15 417.38 L247.55 417.82 L247.95 418.19 L248.35 418.51 L248.75 418.8 L249.15 419.06 L249.55 419.29 L249.95 419.51 L250.35 419.71 L250.75 419.9 L251.15 420.08 L251.55 420.25 L251.95 420.4 L252.35 420.55 L252.75 420.69 L253.15 420.81 L253.55 420.93 L253.95 421.05 L254.35 421.15 L254.75 421.26 L255.15 421.35 L255.55 421.44 L255.95 421.52 L256.35 421.6 L256.75 421.68 L257.15 421.75 L257.55 421.81 L257.95 421.88 L258.35 421.94 L258.75 421.99 L259.15 422.04 L259.55 422.09 L259.95 422.14 L260.35 422.19 L260.75 422.23 L261.15 422.27 L261.55 422.31 L261.95 422.34 L262.35 422.38 L262.75 422.41 L263.15 422.44 L263.55 422.47 L263.95 422.5 L264.35 422.53 L264.75 422.56 L265.15 422.58 L265.55 422.61 L265.95 422.63 L266.35 422.65 L266.75 422.67 L267.15 422.69 L267.55 422.71 L267.95 422.73 L268.35 422.75 L268.75 422.77 L269.15 422.79 L269.55 422.8 L269.95 422.82 L270.35 422.84 L270.75 422.85 L271.15 422.87 L271.55 422.88 L271.95 422.89 L272.35 422.91 L272.75 422.92 L273.15 422.94 L273.55 422.95 L273.95 422.96 L274.35 422.97 L274.75 422.99 L275.15 423 L275.2 423 L275.2 423 L275.25 411.25 L275.38 383.71 L275.52 360.91 L275.65 342.02 L275.78 326.37 L275.92 313.39 L276.05 302.63 L276.18 293.69 L276.32 286.27 L276.45 280.1 L276.58 274.97 L276.72 270.69 L276.85 267.12 L276.98 264.13 L277.12 261.63 L277.25 259.53 L277.65 254.99 L278.05 252.19 L278.45 250.39 L278.85 249.14 L279.25 248.23 L279.65 247.52 L280.05 246.92 L280.45 246.39 L280.85 245.91 L281.25 245.47 L281.65 245.06 L282.05 244.66 L282.45 244.29 L282.85 243.93 L283.25 243.59 L283.65 243.26 L284.05 242.94 L284.45 242.63 L284.85 242.34 L285.25 242.06 L285.65 241.79 L286.05 241.53 L286.45 241.28 L286.85 241.05 L287.25 240.82 L287.65 240.6 L288.05 240.38 L288.45 240.18 L288.85 239.98 L289.25 239.8 L289.65 239.61 L290.05 239.44 L290.45 239.27 L290.85 239.11 L291.25 238.96 L291.65 238.81 L292.05 238.67 L292.45 238.53 L292.85 238.4 L293.25 238.28 L293.5 238.2 L293.55 248.68 L293.68 273.66 L293.82 294.85 L293.95 312.82 L294.08 328.06 L294.22 341.01 L294.35 352 L294.48 361.33 L294.62 369.27 L294.75 376.02 L294.88 381.77 L295.02 386.67 L295.15 390.84 L295.28 394.41 L295.42 397.45 L295.55 400.06 L295.95 405.87 L296.35 409.6 L296.75 412.05 L297.15 413.72 L297.55 414.89 L297.95 415.77 L298.35 416.45 L298.75 417 L299.15 417.46 L299.55 417.87 L299.95 418.23 L300.35 418.56 L300.75 418.86 L301.15 419.14 L301.55 419.4 L301.95 419.65 L302.35 419.87 L302.75 420.09 L303.15 420.29 L303.55 420.48 L303.95 420.66 L304.35 420.83 L304.75 420.99 L305.15 421.14 L305.55 421.29 L305.95 421.42 L306.35 421.55 L306.75 421.67 L307.15 421.78 L307.55 421.89 L307.95 422 L308.35 422.1 L308.75 422.19 L309.15 422.28 L309.55 422.36 L309.95 422.45 L310.35 422.52 L310.75 422.6 L311.15 422.67 L311.55 422.73 L311.95 422.8 L312.35 422.86 L312.75 422.92 L313.15 422.98 L313.55 423.03 L313.95 423.09 L314.35 423.14 L314.75 423.19 L315.15 423.23 L315.55 423.28 L315.95 423.33 L316.35 423.37 L316.75 423.41 L317.15 423.45 L317.55 423.49 L317.95 423.53 L318.35 423.57 L318.75 423.61 L319.15 423.64 L319.55 423.68 L319.95 423.71 L320.35 423.75 L320.75 423.78 L321.15 423.81 L321.55 423.84 L321.95 423.88 L322.35 423.91 L322.75 423.94 L323.15 423.97 L323.55 424 L323.6 424 L323.6 424 L323.65 410.31 L323.78 378.16 L323.92 351.48 L324.05 329.33 L324.18 310.92 L324.32 295.6 L324.45 282.84 L324.58 272.2 L324.72 263.32 L324.85 255.89 L324.98 249.66 L325.12 244.43 L325.25 240.02 L325.38 236.3 L325.52 233.15 L325.65 230.46 L326.05 224.52 L326.45 220.65 L326.85 218 L327.25 216.06 L327.65 214.57 L328.05 213.36 L328.45 212.34 L328.85 211.45 L329.25 210.65 L329.65 209.93 L330.05 209.28 L330.45 208.68 L330.85 208.14 L331.25 207.63 L331.65 207.17 L332.05 206.74 L332.45 206.35 L332.85 205.98 L333.25 205.64 L333.65 205.33 L334.05 205.05 L334.45 204.78 L334.85 204.54 L335.25 204.31 L335.65 204.11 L336.05 203.91 L336.45 203.74 L336.85 203.57 L337.25 203.42 L337.6 203.3 L337.65 215.77 L337.78 245.48 L337.92 270.68 L338.05 292.05 L338.18 310.18 L338.32 325.57 L338.45 338.64 L338.58 349.75 L338.72 359.18 L338.85 367.21 L338.98 374.04 L339.12 379.86 L339.25 384.83 L339.38 389.06 L339.52 392.68 L339.65 395.78 L340.05 402.68 L340.45 407.1 L340.85 410 L341.25 411.97 L341.65 413.36 L342.05 414.39 L342.45 415.18 L342.85 415.83 L343.25 416.37 L343.65 416.84 L344.05 417.26 L344.45 417.63 L344.85 417.98 L345.25 418.3 L345.65 418.6 L346.05 418.88 L346.45 419.14 L346.85 419.38 L347.25 419.61 L347.65 419.82 L348.05 420.02 L348.45 420.21 L348.85 420.39 L349.25 420.56 L349.65 420.71 L350.05 420.86 L350.45 421 L350.85 421.13 L351.25 421.26 L351.65 421.38 L352.05 421.49 L352.45 421.59 L352.85 421.69 L353.25 421.78 L353.65 421.87 L354.05 421.96 L354.45 422.04 L354.85 422.11 L355.25 422.18 L355.65 422.25 L356.05 422.31 L356.45 422.38 L356.85 422.43 L357.25 422.49 L357.65 422.54 L358.05 422.59 L358.45 422.64 L358.85 422.69 L359.25 422.73 L359.65 422.78 L360.05 422.82 L360.45 422.86 L360.85 422.89 L361.25 422.93 L361.65 422.96 L362.05 423 L362.45 423.03 L362.85 423.06 L363.25 423.09 L363.65 423.12 L364.05 423.15 L364.45 423.18 L364.85 423.2 L365.25 423.23 L365.65 423.26 L366.05 423.28 L366.45 423.31 L366.85 423.33 L367.25 423.35 L367.65 423.37 L368.05 423.4 L368.45 423.42 L368.85 423.44 L369.25 423.46 L369.65 423.48 L370 423.5" fill="none" stroke="#6e6ed0" stroke-width="0.95" stroke-linejoin="round" />
<line x1="51.5" y1="426.6" x2="77.3" y2="426.6" stroke="#8b1010" stroke-width="1.6" />
<text x="0.2" y="497.6" font-size="20.2" text-anchor="start" fill="#000" letter-spacing="0.6">d)</text>
<line x1="50.6" y1="475.3" x2="50.6" y2="683.4" stroke="#333333" stroke-width="1.1" />
<line x1="46" y1="682.8" x2="50.6" y2="682.8" stroke="#333333" stroke-width="1" />
<line x1="48" y1="656.88" x2="50.6" y2="656.88" stroke="#333333" stroke-width="1" />
<line x1="46" y1="630.97" x2="50.6" y2="630.97" stroke="#333333" stroke-width="1" />
<line x1="48" y1="605.05" x2="50.6" y2="605.05" stroke="#333333" stroke-width="1" />
<line x1="46" y1="579.14" x2="50.6" y2="579.14" stroke="#333333" stroke-width="1" />
<line x1="48" y1="553.22" x2="50.6" y2="553.22" stroke="#333333" stroke-width="1" />
<line x1="46" y1="527.31" x2="50.6" y2="527.31" stroke="#333333" stroke-width="1" />
<line x1="48" y1="501.39" x2="50.6" y2="501.39" stroke="#333333" stroke-width="1" />
<line x1="46" y1="475.48" x2="50.6" y2="475.48" stroke="#333333" stroke-width="1" />
<text x="43" y="686.1" font-size="9.3" text-anchor="end" fill="#222" textLength="16" lengthAdjust="spacingAndGlyphs" >0.0</text>
<text x="43" y="634.27" font-size="9.3" text-anchor="end" fill="#222" textLength="16" lengthAdjust="spacingAndGlyphs" >0.1</text>
<text x="43" y="582.44" font-size="9.3" text-anchor="end" fill="#222" textLength="16" lengthAdjust="spacingAndGlyphs" >0.2</text>
<text x="43" y="530.61" font-size="9.3" text-anchor="end" fill="#222" textLength="16" lengthAdjust="spacingAndGlyphs" >0.3</text>
<text x="43" y="478.78" font-size="9.3" text-anchor="end" fill="#222" textLength="16" lengthAdjust="spacingAndGlyphs" >0.4</text>
<line x1="50.1" y1="683" x2="381.4" y2="683" stroke="#333333" stroke-width="1.1" />
<line x1="50.4" y1="683" x2="50.4" y2="686.6" stroke="#333333" stroke-width="1" />
<line x1="69.86" y1="683" x2="69.86" y2="685.2" stroke="#333333" stroke-width="1" />
<line x1="89.33" y1="683" x2="89.33" y2="686.6" stroke="#333333" stroke-width="1" />
<line x1="108.79" y1="683" x2="108.79" y2="685.2" stroke="#333333" stroke-width="1" />
<line x1="128.26" y1="683" x2="128.26" y2="686.6" stroke="#333333" stroke-width="1" />
<line x1="147.72" y1="683" x2="147.72" y2="685.2" stroke="#333333" stroke-width="1" />
<line x1="167.19" y1="683" x2="167.19" y2="686.6" stroke="#333333" stroke-width="1" />
<line x1="186.66" y1="683" x2="186.66" y2="685.2" stroke="#333333" stroke-width="1" />
<line x1="206.12" y1="683" x2="206.12" y2="686.6" stroke="#333333" stroke-width="1" />
<line x1="225.59" y1="683" x2="225.59" y2="685.2" stroke="#333333" stroke-width="1" />
<line x1="245.05" y1="683" x2="245.05" y2="686.6" stroke="#333333" stroke-width="1" />
<line x1="264.51" y1="683" x2="264.51" y2="685.2" stroke="#333333" stroke-width="1" />
<line x1="283.98" y1="683" x2="283.98" y2="686.6" stroke="#333333" stroke-width="1" />
<line x1="303.44" y1="683" x2="303.44" y2="685.2" stroke="#333333" stroke-width="1" />
<line x1="322.91" y1="683" x2="322.91" y2="686.6" stroke="#333333" stroke-width="1" />
<line x1="342.37" y1="683" x2="342.37" y2="685.2" stroke="#333333" stroke-width="1" />
<line x1="361.84" y1="683" x2="361.84" y2="686.6" stroke="#333333" stroke-width="1" />
<line x1="381.3" y1="683" x2="381.3" y2="685.2" stroke="#333333" stroke-width="1" />
<text x="50.4" y="698" font-size="9.6" text-anchor="middle" fill="#222" textLength="6.2" lengthAdjust="spacingAndGlyphs" >0</text>
<text x="89.33" y="698" font-size="9.6" text-anchor="middle" fill="#222" textLength="12.9" lengthAdjust="spacingAndGlyphs" >10</text>
<text x="128.26" y="698" font-size="9.6" text-anchor="middle" fill="#222" textLength="12.9" lengthAdjust="spacingAndGlyphs" >20</text>
<text x="167.19" y="698" font-size="9.6" text-anchor="middle" fill="#222" textLength="12.9" lengthAdjust="spacingAndGlyphs" >30</text>
<text x="206.12" y="698" font-size="9.6" text-anchor="middle" fill="#222" textLength="12.9" lengthAdjust="spacingAndGlyphs" >40</text>
<text x="245.05" y="698" font-size="9.6" text-anchor="middle" fill="#222" textLength="12.9" lengthAdjust="spacingAndGlyphs" >50</text>
<text x="283.98" y="698" font-size="9.6" text-anchor="middle" fill="#222" textLength="12.9" lengthAdjust="spacingAndGlyphs" >60</text>
<text x="322.91" y="698" font-size="9.6" text-anchor="middle" fill="#222" textLength="12.9" lengthAdjust="spacingAndGlyphs" >70</text>
<text x="361.84" y="698" font-size="9.6" text-anchor="middle" fill="#222" textLength="12.9" lengthAdjust="spacingAndGlyphs" >80</text>
<text x="215.7" y="714.6" font-size="11.6" text-anchor="middle" fill="#222" textLength="29.5" lengthAdjust="spacingAndGlyphs" >RH%</text>
<text x="21.9" y="579.2" font-size="11.6" text-anchor="middle" fill="#222" transform="rotate(-90 21.9 579.2)" >Response</text>
<rect x="63.1" y="476.5" width="85.6" height="42.6" fill="none" stroke="#777" stroke-width="0.9"/>
<rect x="78.3" y="483.5" width="2.2" height="2.2" fill="#ff0000"/>
<text x="97.8" y="489.2" font-size="10.6" text-anchor="start" fill="#111" textLength="48.2" lengthAdjust="spacingAndGlyphs" >FGO 1:1</text>
<rect x="78.3" y="497" width="2.2" height="2.2" fill="#000000"/>
<text x="97.8" y="502.7" font-size="10.6" text-anchor="start" fill="#111" textLength="48.2" lengthAdjust="spacingAndGlyphs" >FGO 2:1</text>
<rect x="78.3" y="510.5" width="2.2" height="2.2" fill="#800080"/>
<text x="97.8" y="516.2" font-size="10.6" text-anchor="start" fill="#111" textLength="48.2" lengthAdjust="spacingAndGlyphs" >FGO 3:1</text>
<path d="M50.4 682.8 L50.46 682.01 L50.58 681.32 L50.75 680.66 L50.96 680.02 L51.2 679.39 L51.47 678.77 L51.77 678.16 L52.09 677.56 L52.44 676.97 L52.82 676.38 L53.22 675.8 L53.64 675.22 L54.08 674.64 L54.54 674.07 L55.03 673.51 L55.53 672.94 L56.05 672.38 L56.6 671.83 L57.16 671.27 L57.73 670.72 L58.33 670.17 L58.94 669.62 L59.57 669.08 L60.22 668.53 L60.88 667.99 L61.56 667.45 L62.25 666.92 L62.96 666.38 L63.69 665.85 L64.43 665.31 L65.19 664.78 L65.96 664.25 L66.74 663.73 L67.54 663.2 L68.36 662.67 L69.18 662.15 L70.03 661.63 L70.88 661.11 L71.75 660.59 L72.63 660.07 L73.53 659.55 L74.44 659.03 L75.36 658.52 L76.3 658 L77.24 657.49 L78.2 656.98 L79.18 656.47 L80.16 655.96 L81.16 655.45 L82.17 654.94 L83.2 654.43 L84.23 653.92 L85.28 653.42 L86.34 652.91 L87.41 652.41 L88.49 651.9 L89.58 651.4 L90.69 650.9 L91.81 650.4 L92.93 649.9 L94.07 649.4 L95.23 648.9 L96.39 648.4 L97.56 647.9 L98.75 647.4 L99.94 646.91 L101.15 646.41 L102.37 645.92 L103.59 645.42 L104.83 644.93 L106.08 644.44 L107.34 643.94 L108.61 643.45 L109.89 642.96 L111.18 642.47 L112.49 641.98 L113.8 641.49 L115.12 641 L116.45 640.51 L117.8 640.03 L119.15 639.54 L120.51 639.05 L121.89 638.56 L123.27 638.08 L124.66 637.59 L126.07 637.11 L127.48 636.62 L128.9 636.14 L130.33 635.66 L131.77 635.17 L133.23 634.69 L134.69 634.21 L136.16 633.73 L137.64 633.25 L139.13 632.77 L140.63 632.29 L142.13 631.81 L143.65 631.33 L145.18 630.85 L146.72 630.37 L148.26 629.89 L149.82 629.42 L151.38 628.94 L152.95 628.46 L154.54 627.99 L156.13 627.51 L157.73 627.03 L159.34 626.56 L160.96 626.08 L162.58 625.61 L164.22 625.14 L165.86 624.66 L167.52 624.19 L169.18 623.72 L170.85 623.24 L172.53 622.77 L174.22 622.3 L175.92 621.83 L177.63 621.36 L179.34 620.89 L181.06 620.42 L182.8 619.95 L184.54 619.48 L186.29 619.01 L188.04 618.54 L189.81 618.07 L191.58 617.6 L193.37 617.13 L195.16 616.67 L196.96 616.2 L198.77 615.73 L200.58 615.26 L202.41 614.8 L204.24 614.33 L206.08 613.87 L207.93 613.4 L209.79 612.93 L211.65 612.47 L213.53 612.01 L215.41 611.54 L217.3 611.08 L219.19 610.61 L221.1 610.15 L223.01 609.69 L224.94 609.22 L226.87 608.76 L228.8 608.3 L230.75 607.84 L232.7 607.37 L234.67 606.91 L236.63 606.45 L238.61 605.99 L240.6 605.53 L242.59 605.07 L244.59 604.61 L246.6 604.15 L248.62 603.69 L250.64 603.23 L252.67 602.77 L254.71 602.31 L256.76 601.85 L258.81 601.4 L260.87 600.94 L262.94 600.48 L265.02 600.02 L267.11 599.56 L269.2 599.11 L271.3 598.65 L273.41 598.19 L275.52 597.74 L277.64 597.28 L279.77 596.82 L281.91 596.37 L284.06 595.91 L286.21 595.46 L288.37 595 L290.53 594.55 L292.71 594.09 L294.89 593.64 L297.08 593.19 L299.28 592.73 L301.48 592.28 L303.69 591.82 L305.91 591.37 L308.13 590.92 L310.37 590.46 L312.61 590.01 L314.85 589.56 L317.11 589.11 L319.37 588.66 L321.64 588.2 L323.91 587.75 L326.2 587.3 L328.49 586.85 L330.78 586.4 L333.09 585.95 L335.4 585.5 L337.72 585.05 L340.04 584.6 L342.37 584.15" fill="none" stroke="#b060c8" stroke-width="0.9" stroke-linejoin="round" />
<path d="M50.4 682.8 L50.46 682.29 L50.58 681.74 L50.75 681.18 L50.96 680.6 L51.2 680.02 L51.47 679.43 L51.77 678.83 L52.09 678.23 L52.44 677.62 L52.82 677.01 L53.22 676.4 L53.64 675.78 L54.08 675.17 L54.54 674.54 L55.03 673.92 L55.53 673.29 L56.05 672.67 L56.6 672.04 L57.16 671.4 L57.73 670.77 L58.33 670.13 L58.94 669.5 L59.57 668.86 L60.22 668.21 L60.88 667.57 L61.56 666.93 L62.25 666.28 L62.96 665.64 L63.69 664.99 L64.43 664.34 L65.19 663.69 L65.96 663.04 L66.74 662.38 L67.54 661.73 L68.36 661.08 L69.18 660.42 L70.03 659.76 L70.88 659.1 L71.75 658.45 L72.63 657.79 L73.53 657.12 L74.44 656.46 L75.36 655.8 L76.3 655.14 L77.24 654.47 L78.2 653.81 L79.18 653.14 L80.16 652.47 L81.16 651.81 L82.17 651.14 L83.2 650.47 L84.23 649.8 L85.28 649.13 L86.34 648.46 L87.41 647.79 L88.49 647.11 L89.58 646.44 L90.69 645.77 L91.81 645.09 L92.93 644.42 L94.07 643.74 L95.23 643.06 L96.39 642.39 L97.56 641.71 L98.75 641.03 L99.94 640.35 L101.15 639.67 L102.37 638.99 L103.59 638.31 L104.83 637.63 L106.08 636.95 L107.34 636.27 L108.61 635.58 L109.89 634.9 L111.18 634.22 L112.49 633.53 L113.8 632.85 L115.12 632.16 L116.45 631.48 L117.8 630.79 L119.15 630.1 L120.51 629.42 L121.89 628.73 L123.27 628.04 L124.66 627.35 L126.07 626.66 L127.48 625.97 L128.9 625.28 L130.33 624.59 L131.77 623.9 L133.23 623.21 L134.69 622.52 L136.16 621.83 L137.64 621.13 L139.13 620.44 L140.63 619.75 L142.13 619.05 L143.65 618.36 L145.18 617.67 L146.72 616.97 L148.26 616.28 L149.82 615.58 L151.38 614.88 L152.95 614.19 L154.54 613.49 L156.13 612.79 L157.73 612.1 L159.34 611.4 L160.96 610.7 L162.58 610 L164.22 609.3 L165.86 608.6 L167.52 607.9 L169.18 607.2 L170.85 606.5 L172.53 605.8 L174.22 605.1 L175.92 604.4 L177.63 603.7 L179.34 602.99 L181.06 602.29 L182.8 601.59 L184.54 600.89 L186.29 600.18 L188.04 599.48 L189.81 598.78 L191.58 598.07 L193.37 597.37 L195.16 596.66 L196.96 595.96 L198.77 595.25 L200.58 594.54 L202.41 593.84 L204.24 593.13 L206.08 592.42 L207.93 591.72 L209.79 591.01 L211.65 590.3 L213.53 589.59 L215.41 588.89 L217.3 588.18 L219.19 587.47 L221.1 586.76 L223.01 586.05 L224.94 585.34 L226.87 584.63 L228.8 583.92 L230.75 583.21 L232.7 582.5 L234.67 581.79 L236.63 581.08 L238.61 580.37 L240.6 579.65 L242.59 578.94 L244.59 578.23 L246.6 577.52 L248.62 576.8 L250.64 576.09 L252.67 575.38 L254.71 574.66 L256.76 573.95 L258.81 573.24 L260.87 572.52 L262.94 571.81 L265.02 571.09 L267.11 570.38 L269.2 569.66 L271.3 568.95 L273.41 568.23 L275.52 567.52 L277.64 566.8 L279.77 566.08 L281.91 565.37 L284.06 564.65 L286.21 563.93 L288.37 563.21 L290.53 562.5 L292.71 561.78 L294.89 561.06 L297.08 560.34 L299.28 559.62 L301.48 558.91 L303.69 558.19 L305.91 557.47 L308.13 556.75 L310.37 556.03 L312.61 555.31 L314.85 554.59 L317.11 553.87 L319.37 553.15 L321.64 552.43 L323.91 551.71 L326.2 550.98 L328.49 550.26 L330.78 549.54 L333.09 548.82 L335.4 548.1 L337.72 547.38 L340.04 546.65 L342.37 545.93" fill="none" stroke="#555555" stroke-width="0.9" stroke-linejoin="round" />
<path d="M50.4 682.8 L50.46 682.64 L50.58 682.39 L50.75 682.1 L50.96 681.78 L51.2 681.44 L51.47 681.07 L51.77 680.68 L52.09 680.28 L52.44 679.85 L52.82 679.42 L53.22 678.97 L53.64 678.5 L54.08 678.03 L54.54 677.54 L55.03 677.04 L55.53 676.53 L56.05 676.02 L56.6 675.49 L57.16 674.95 L57.73 674.4 L58.33 673.85 L58.94 673.28 L59.57 672.71 L60.22 672.13 L60.88 671.55 L61.56 670.95 L62.25 670.35 L62.96 669.74 L63.69 669.13 L64.43 668.51 L65.19 667.88 L65.96 667.24 L66.74 666.6 L67.54 665.95 L68.36 665.3 L69.18 664.64 L70.03 663.98 L70.88 663.31 L71.75 662.63 L72.63 661.95 L73.53 661.26 L74.44 660.57 L75.36 659.88 L76.3 659.17 L77.24 658.47 L78.2 657.76 L79.18 657.04 L80.16 656.32 L81.16 655.59 L82.17 654.86 L83.2 654.12 L84.23 653.38 L85.28 652.64 L86.34 651.89 L87.41 651.14 L88.49 650.38 L89.58 649.62 L90.69 648.85 L91.81 648.08 L92.93 647.31 L94.07 646.53 L95.23 645.75 L96.39 644.96 L97.56 644.17 L98.75 643.38 L99.94 642.58 L101.15 641.78 L102.37 640.98 L103.59 640.17 L104.83 639.35 L106.08 638.54 L107.34 637.72 L108.61 636.9 L109.89 636.07 L111.18 635.24 L112.49 634.4 L113.8 633.57 L115.12 632.73 L116.45 631.88 L117.8 631.04 L119.15 630.18 L120.51 629.33 L121.89 628.47 L123.27 627.61 L124.66 626.75 L126.07 625.88 L127.48 625.01 L128.9 624.14 L130.33 623.26 L131.77 622.39 L133.23 621.5 L134.69 620.62 L136.16 619.73 L137.64 618.84 L139.13 617.94 L140.63 617.05 L142.13 616.15 L143.65 615.24 L145.18 614.34 L146.72 613.43 L148.26 612.52 L149.82 611.6 L151.38 610.69 L152.95 609.77 L154.54 608.84 L156.13 607.92 L157.73 606.99 L159.34 606.06 L160.96 605.12 L162.58 604.19 L164.22 603.25 L165.86 602.31 L167.52 601.36 L169.18 600.42 L170.85 599.47 L172.53 598.52 L174.22 597.56 L175.92 596.6 L177.63 595.64 L179.34 594.68 L181.06 593.72 L182.8 592.75 L184.54 591.78 L186.29 590.81 L188.04 589.83 L189.81 588.86 L191.58 587.88 L193.37 586.9 L195.16 585.91 L196.96 584.93 L198.77 583.94 L200.58 582.94 L202.41 581.95 L204.24 580.96 L206.08 579.96 L207.93 578.96 L209.79 577.95 L211.65 576.95 L213.53 575.94 L215.41 574.93 L217.3 573.92 L219.19 572.9 L221.1 571.89 L223.01 570.87 L224.94 569.85 L226.87 568.83 L228.8 567.8 L230.75 566.77 L232.7 565.74 L234.67 564.71 L236.63 563.68 L238.61 562.64 L240.6 561.6 L242.59 560.56 L244.59 559.52 L246.6 558.48 L248.62 557.43 L250.64 556.38 L252.67 555.33 L254.71 554.28 L256.76 553.22 L258.81 552.16 L260.87 551.11 L262.94 550.04 L265.02 548.98 L267.11 547.92 L269.2 546.85 L271.3 545.78 L273.41 544.71 L275.52 543.64 L277.64 542.56 L279.77 541.48 L281.91 540.41 L284.06 539.32 L286.21 538.24 L288.37 537.16 L290.53 536.07 L292.71 534.98 L294.89 533.89 L297.08 532.8 L299.28 531.7 L301.48 530.61 L303.69 529.51 L305.91 528.41 L308.13 527.31 L310.37 526.2 L312.61 525.1 L314.85 523.99 L317.11 522.88 L319.37 521.77 L321.64 520.66 L323.91 519.54 L326.2 518.43 L328.49 517.31 L330.78 516.19 L333.09 515.07 L335.4 513.94 L337.72 512.82 L340.04 511.69 L342.37 510.56" fill="none" stroke="#ff5050" stroke-width="0.9" stroke-linejoin="round" />
<rect x="107.29" y="642.41" width="3" height="2.8" fill="#800080"/>
<rect x="146.22" y="629.9" width="3" height="2.8" fill="#800080"/>
<line x1="186.66" y1="618.48" x2="186.66" y2="622.48" stroke="#b060c0" stroke-width="0.8" />
<line x1="184.06" y1="618.48" x2="189.25" y2="618.48" stroke="#b060c0" stroke-width="0.8" />
<line x1="184.06" y1="622.48" x2="189.25" y2="622.48" stroke="#b060c0" stroke-width="0.8" />
<line x1="184.66" y1="620.48" x2="188.66" y2="620.48" stroke="#b060c0" stroke-width="0.8" />
<line x1="184.66" y1="618.48" x2="184.66" y2="622.48" stroke="#b060c0" stroke-width="0.8" />
<line x1="188.66" y1="618.48" x2="188.66" y2="622.48" stroke="#b060c0" stroke-width="0.8" />
<rect x="185.16" y="619.08" width="3" height="2.8" fill="#800080"/>
<line x1="225.59" y1="601.79" x2="225.59" y2="608.59" stroke="#b060c0" stroke-width="0.8" />
<line x1="222.99" y1="601.79" x2="228.19" y2="601.79" stroke="#b060c0" stroke-width="0.8" />
<line x1="222.99" y1="608.59" x2="228.19" y2="608.59" stroke="#b060c0" stroke-width="0.8" />
<line x1="222.39" y1="605.19" x2="228.78" y2="605.19" stroke="#b060c0" stroke-width="0.8" />
<line x1="222.39" y1="603.19" x2="222.39" y2="607.19" stroke="#b060c0" stroke-width="0.8" />
<line x1="228.78" y1="603.19" x2="228.78" y2="607.19" stroke="#b060c0" stroke-width="0.8" />
<rect x="224.09" y="603.79" width="3" height="2.8" fill="#800080"/>
<line x1="264.51" y1="590.73" x2="264.51" y2="598.73" stroke="#b060c0" stroke-width="0.8" />
<line x1="261.91" y1="590.73" x2="267.12" y2="590.73" stroke="#b060c0" stroke-width="0.8" />
<line x1="261.91" y1="598.73" x2="267.12" y2="598.73" stroke="#b060c0" stroke-width="0.8" />
<line x1="260.01" y1="594.73" x2="269.01" y2="594.73" stroke="#b060c0" stroke-width="0.8" />
<line x1="260.01" y1="592.73" x2="260.01" y2="596.73" stroke="#b060c0" stroke-width="0.8" />
<line x1="269.01" y1="592.73" x2="269.01" y2="596.73" stroke="#b060c0" stroke-width="0.8" />
<rect x="263.01" y="593.33" width="3" height="2.8" fill="#800080"/>
<line x1="303.44" y1="585.5" x2="303.44" y2="594.7" stroke="#b060c0" stroke-width="0.8" />
<line x1="300.84" y1="585.5" x2="306.05" y2="585.5" stroke="#b060c0" stroke-width="0.8" />
<line x1="300.84" y1="594.7" x2="306.05" y2="594.7" stroke="#b060c0" stroke-width="0.8" />
<line x1="298.25" y1="590.1" x2="308.64" y2="590.1" stroke="#b060c0" stroke-width="0.8" />
<line x1="298.25" y1="588.1" x2="298.25" y2="592.1" stroke="#b060c0" stroke-width="0.8" />
<line x1="308.64" y1="588.1" x2="308.64" y2="592.1" stroke="#b060c0" stroke-width="0.8" />
<rect x="301.94" y="588.7" width="3" height="2.8" fill="#800080"/>
<line x1="342.37" y1="587.66" x2="342.37" y2="596.66" stroke="#b060c0" stroke-width="0.8" />
<line x1="339.77" y1="587.66" x2="344.97" y2="587.66" stroke="#b060c0" stroke-width="0.8" />
<line x1="339.77" y1="596.66" x2="344.97" y2="596.66" stroke="#b060c0" stroke-width="0.8" />
<line x1="336.27" y1="592.16" x2="348.47" y2="592.16" stroke="#b060c0" stroke-width="0.8" />
<line x1="336.27" y1="590.16" x2="336.27" y2="594.16" stroke="#b060c0" stroke-width="0.8" />
<line x1="348.47" y1="590.16" x2="348.47" y2="594.16" stroke="#b060c0" stroke-width="0.8" />
<rect x="340.87" y="590.76" width="3" height="2.8" fill="#800080"/>
<line x1="108.79" y1="632.4" x2="108.79" y2="637.4" stroke="#555555" stroke-width="0.8" />
<line x1="106.19" y1="632.4" x2="111.39" y2="632.4" stroke="#555555" stroke-width="0.8" />
<line x1="106.19" y1="637.4" x2="111.39" y2="637.4" stroke="#555555" stroke-width="0.8" />
<rect x="107.29" y="633.5" width="3" height="2.8" fill="#000000"/>
<line x1="147.72" y1="613.91" x2="147.72" y2="621.91" stroke="#555555" stroke-width="0.8" />
<line x1="145.12" y1="613.91" x2="150.32" y2="613.91" stroke="#555555" stroke-width="0.8" />
<line x1="145.12" y1="621.91" x2="150.32" y2="621.91" stroke="#555555" stroke-width="0.8" />
<rect x="146.22" y="616.51" width="3" height="2.8" fill="#000000"/>
<line x1="186.66" y1="595.9" x2="186.66" y2="604.9" stroke="#555555" stroke-width="0.8" />
<line x1="184.06" y1="595.9" x2="189.25" y2="595.9" stroke="#555555" stroke-width="0.8" />
<line x1="184.06" y1="604.9" x2="189.25" y2="604.9" stroke="#555555" stroke-width="0.8" />
<line x1="184.66" y1="600.4" x2="188.66" y2="600.4" stroke="#555555" stroke-width="0.8" />
<line x1="184.66" y1="598.4" x2="184.66" y2="602.4" stroke="#555555" stroke-width="0.8" />
<line x1="188.66" y1="598.4" x2="188.66" y2="602.4" stroke="#555555" stroke-width="0.8" />
<rect x="185.16" y="599" width="3" height="2.8" fill="#000000"/>
<line x1="225.59" y1="579.85" x2="225.59" y2="590.05" stroke="#555555" stroke-width="0.8" />
<line x1="222.99" y1="579.85" x2="228.19" y2="579.85" stroke="#555555" stroke-width="0.8" />
<line x1="222.99" y1="590.05" x2="228.19" y2="590.05" stroke="#555555" stroke-width="0.8" />
<line x1="222.39" y1="584.95" x2="228.78" y2="584.95" stroke="#555555" stroke-width="0.8" />
<line x1="222.39" y1="582.95" x2="222.39" y2="586.95" stroke="#555555" stroke-width="0.8" />
<line x1="228.78" y1="582.95" x2="228.78" y2="586.95" stroke="#555555" stroke-width="0.8" />
<rect x="224.09" y="583.55" width="3" height="2.8" fill="#000000"/>
<line x1="264.51" y1="568.74" x2="264.51" y2="579.53" stroke="#555555" stroke-width="0.8" />
<line x1="261.91" y1="568.74" x2="267.12" y2="568.74" stroke="#555555" stroke-width="0.8" />
<line x1="261.91" y1="579.53" x2="267.12" y2="579.53" stroke="#555555" stroke-width="0.8" />
<line x1="260.01" y1="574.13" x2="269.01" y2="574.13" stroke="#555555" stroke-width="0.8" />
<line x1="260.01" y1="572.13" x2="260.01" y2="576.13" stroke="#555555" stroke-width="0.8" />
<line x1="269.01" y1="572.13" x2="269.01" y2="576.13" stroke="#555555" stroke-width="0.8" />
<rect x="263.01" y="572.74" width="3" height="2.8" fill="#000000"/>
<line x1="303.44" y1="547.33" x2="303.44" y2="559.74" stroke="#555555" stroke-width="0.8" />
<line x1="300.84" y1="547.33" x2="306.05" y2="547.33" stroke="#555555" stroke-width="0.8" />
<line x1="300.84" y1="559.74" x2="306.05" y2="559.74" stroke="#555555" stroke-width="0.8" />
<line x1="298.25" y1="553.53" x2="308.64" y2="553.53" stroke="#555555" stroke-width="0.8" />
<line x1="298.25" y1="551.53" x2="298.25" y2="555.53" stroke="#555555" stroke-width="0.8" />
<line x1="308.64" y1="551.53" x2="308.64" y2="555.53" stroke="#555555" stroke-width="0.8" />
<rect x="301.94" y="552.13" width="3" height="2.8" fill="#000000"/>
<line x1="342.37" y1="541.17" x2="342.37" y2="554.57" stroke="#555555" stroke-width="0.8" />
<line x1="339.77" y1="541.17" x2="344.97" y2="541.17" stroke="#555555" stroke-width="0.8" />
<line x1="339.77" y1="554.57" x2="344.97" y2="554.57" stroke="#555555" stroke-width="0.8" />
<line x1="336.27" y1="547.87" x2="348.47" y2="547.87" stroke="#555555" stroke-width="0.8" />
<line x1="336.27" y1="545.87" x2="336.27" y2="549.87" stroke="#555555" stroke-width="0.8" />
<line x1="348.47" y1="545.87" x2="348.47" y2="549.87" stroke="#555555" stroke-width="0.8" />
<rect x="340.87" y="546.47" width="3" height="2.8" fill="#000000"/>
<line x1="108.79" y1="634.71" x2="108.79" y2="638.71" stroke="#ff6a6a" stroke-width="0.8" />
<line x1="106.19" y1="634.71" x2="111.39" y2="634.71" stroke="#ff6a6a" stroke-width="0.8" />
<line x1="106.19" y1="638.71" x2="111.39" y2="638.71" stroke="#ff6a6a" stroke-width="0.8" />
<rect x="107.29" y="635.31" width="3" height="2.8" fill="#ff0000"/>
<line x1="147.72" y1="609.26" x2="147.72" y2="616.26" stroke="#ff6a6a" stroke-width="0.8" />
<line x1="145.12" y1="609.26" x2="150.32" y2="609.26" stroke="#ff6a6a" stroke-width="0.8" />
<line x1="145.12" y1="616.26" x2="150.32" y2="616.26" stroke="#ff6a6a" stroke-width="0.8" />
<rect x="146.22" y="611.36" width="3" height="2.8" fill="#ff0000"/>
<line x1="186.66" y1="584.88" x2="186.66" y2="594.28" stroke="#ff6a6a" stroke-width="0.8" />
<line x1="184.06" y1="584.88" x2="189.25" y2="584.88" stroke="#ff6a6a" stroke-width="0.8" />
<line x1="184.06" y1="594.28" x2="189.25" y2="594.28" stroke="#ff6a6a" stroke-width="0.8" />
<line x1="184.66" y1="589.58" x2="188.66" y2="589.58" stroke="#ff6a6a" stroke-width="0.8" />
<line x1="184.66" y1="587.58" x2="184.66" y2="591.58" stroke="#ff6a6a" stroke-width="0.8" />
<line x1="188.66" y1="587.58" x2="188.66" y2="591.58" stroke="#ff6a6a" stroke-width="0.8" />
<rect x="185.16" y="588.18" width="3" height="2.8" fill="#ff0000"/>
<line x1="225.59" y1="563.9" x2="225.59" y2="575.1" stroke="#ff6a6a" stroke-width="0.8" />
<line x1="222.99" y1="563.9" x2="228.19" y2="563.9" stroke="#ff6a6a" stroke-width="0.8" />
<line x1="222.99" y1="575.1" x2="228.19" y2="575.1" stroke="#ff6a6a" stroke-width="0.8" />
<line x1="222.39" y1="569.5" x2="228.78" y2="569.5" stroke="#ff6a6a" stroke-width="0.8" />
<line x1="222.39" y1="567.5" x2="222.39" y2="571.5" stroke="#ff6a6a" stroke-width="0.8" />
<line x1="228.78" y1="567.5" x2="228.78" y2="571.5" stroke="#ff6a6a" stroke-width="0.8" />
<rect x="224.09" y="568.1" width="3" height="2.8" fill="#ff0000"/>
<line x1="264.51" y1="540.97" x2="264.51" y2="554.77" stroke="#ff6a6a" stroke-width="0.8" />
<line x1="261.91" y1="540.97" x2="267.12" y2="540.97" stroke="#ff6a6a" stroke-width="0.8" />
<line x1="261.91" y1="554.77" x2="267.12" y2="554.77" stroke="#ff6a6a" stroke-width="0.8" />
<line x1="260.01" y1="547.87" x2="269.01" y2="547.87" stroke="#ff6a6a" stroke-width="0.8" />
<line x1="260.01" y1="545.87" x2="260.01" y2="549.87" stroke="#ff6a6a" stroke-width="0.8" />
<line x1="269.01" y1="545.87" x2="269.01" y2="549.87" stroke="#ff6a6a" stroke-width="0.8" />
<rect x="263.01" y="546.47" width="3" height="2.8" fill="#ff0000"/>
<line x1="303.44" y1="524.82" x2="303.44" y2="540.02" stroke="#ff6a6a" stroke-width="0.8" />
<line x1="300.84" y1="524.82" x2="306.05" y2="524.82" stroke="#ff6a6a" stroke-width="0.8" />
<line x1="300.84" y1="540.02" x2="306.05" y2="540.02" stroke="#ff6a6a" stroke-width="0.8" />
<line x1="298.25" y1="532.42" x2="308.64" y2="532.42" stroke="#ff6a6a" stroke-width="0.8" />
<line x1="298.25" y1="530.42" x2="298.25" y2="534.42" stroke="#ff6a6a" stroke-width="0.8" />
<line x1="308.64" y1="530.42" x2="308.64" y2="534.42" stroke="#ff6a6a" stroke-width="0.8" />
<rect x="301.94" y="531.02" width="3" height="2.8" fill="#ff0000"/>
<line x1="342.37" y1="503.22" x2="342.37" y2="520.42" stroke="#ff6a6a" stroke-width="0.8" />
<line x1="339.77" y1="503.22" x2="344.97" y2="503.22" stroke="#ff6a6a" stroke-width="0.8" />
<line x1="339.77" y1="520.42" x2="344.97" y2="520.42" stroke="#ff6a6a" stroke-width="0.8" />
<line x1="336.27" y1="511.82" x2="348.47" y2="511.82" stroke="#ff6a6a" stroke-width="0.8" />
<line x1="336.27" y1="509.82" x2="336.27" y2="513.82" stroke="#ff6a6a" stroke-width="0.8" />
<line x1="348.47" y1="509.82" x2="348.47" y2="513.82" stroke="#ff6a6a" stroke-width="0.8" />
<rect x="340.87" y="510.42" width="3" height="2.8" fill="#ff0000"/>
</svg>
</body></html>
